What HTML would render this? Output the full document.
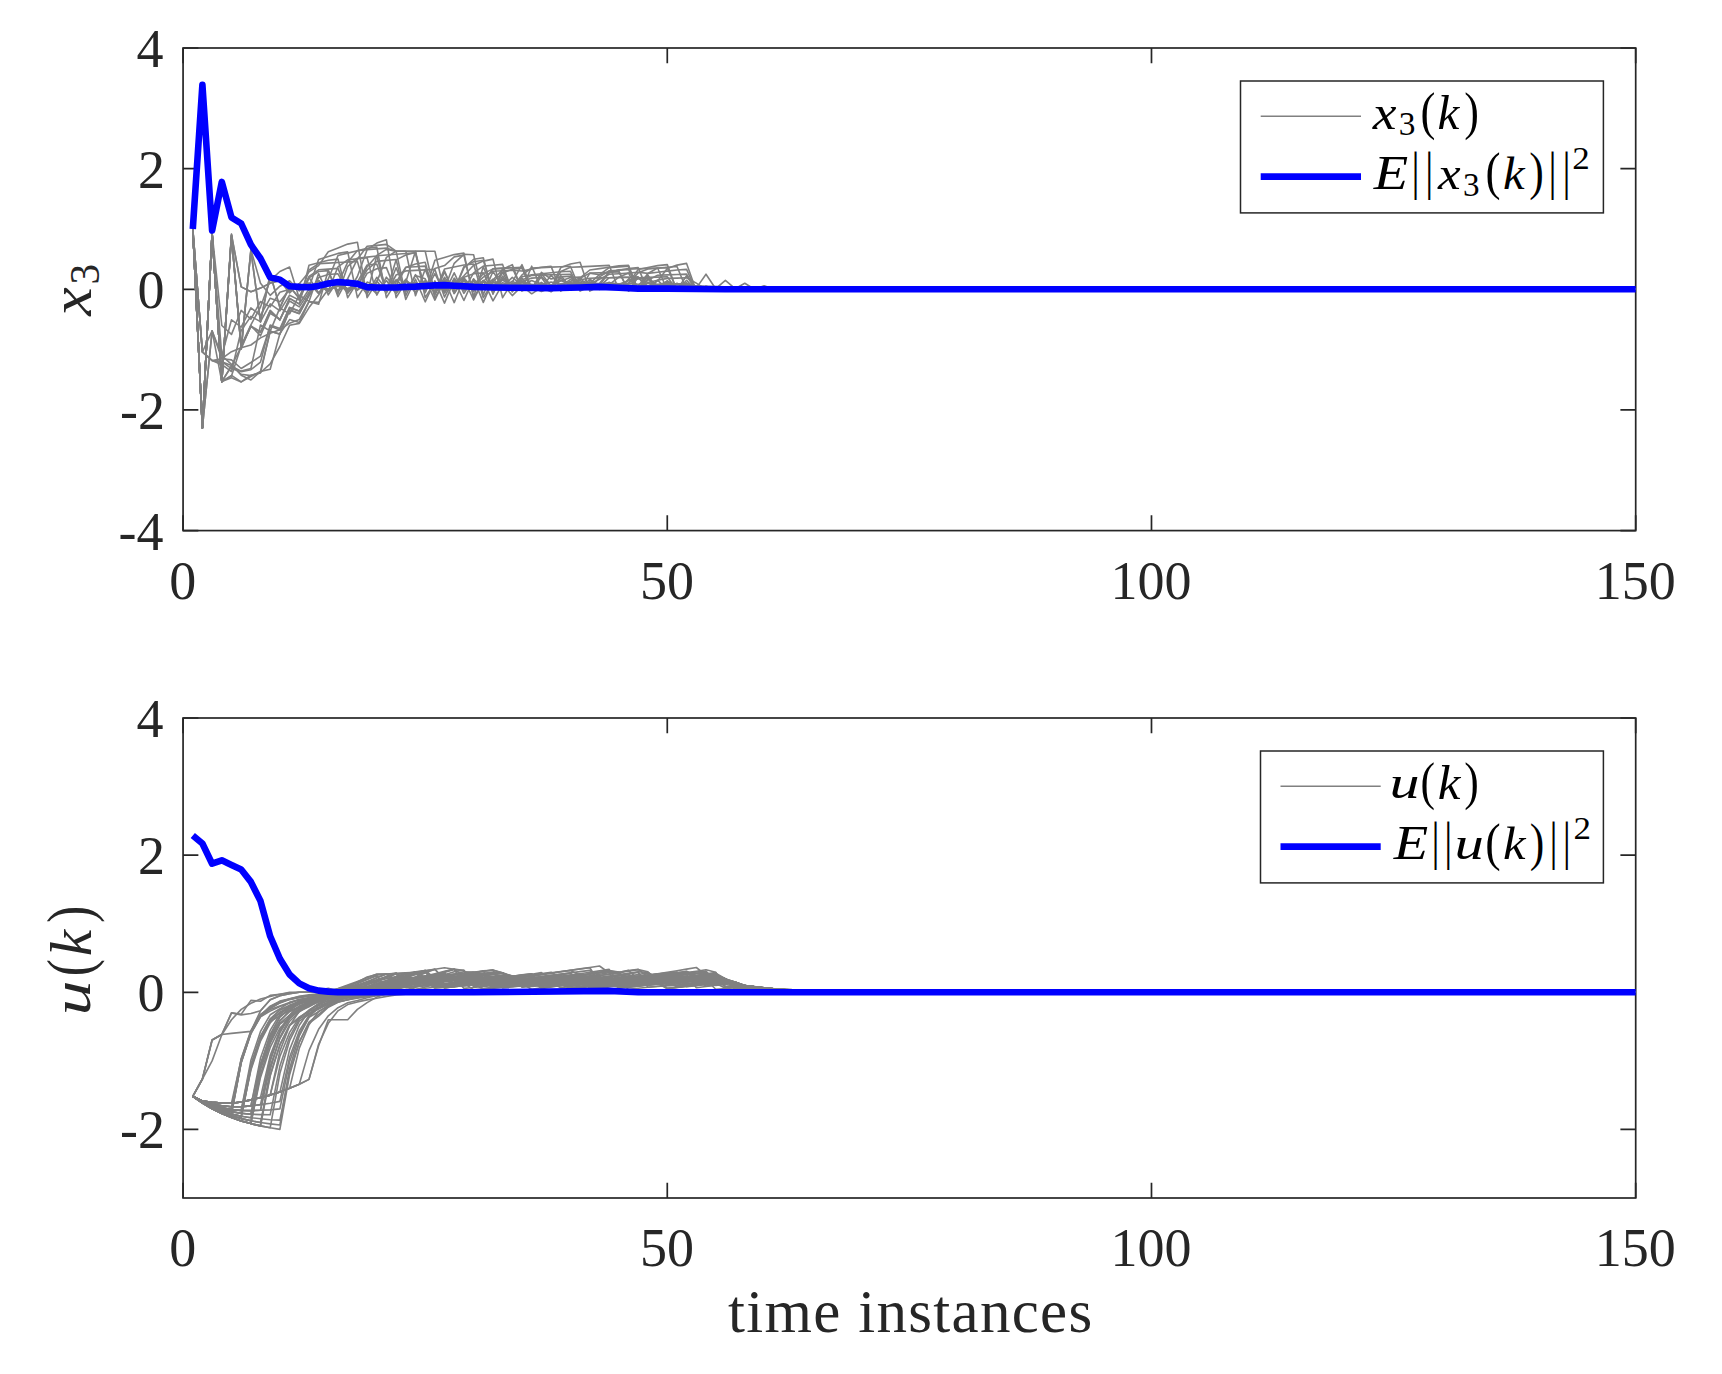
<!DOCTYPE html>
<html lang="en"><head><meta charset="utf-8"><title>x3(k) and u(k) over time instances</title>
<style>html,body{margin:0;padding:0;background:#fff}svg{display:block}</style></head>
<body>
<svg width="1722" height="1374" viewBox="0 0 1722 1374" font-family="'Liberation Serif', serif">
<rect width="1722" height="1374" fill="#fff"/>
<rect x="183.07" y="48.00" width="1452.63" height="482.60" fill="none" stroke="#262626" stroke-width="1.7"/>
<path d="M183.07 530.60v-15.3M183.07 48.00v15.3" stroke="#262626" stroke-width="1.7" fill="none"/>
<text x="182.67" y="598.50" font-size="54" text-anchor="middle" fill="#262626">0</text>
<path d="M667.28 530.60v-15.3M667.28 48.00v15.3" stroke="#262626" stroke-width="1.7" fill="none"/>
<text x="666.88" y="598.50" font-size="54" text-anchor="middle" fill="#262626">50</text>
<path d="M1151.49 530.60v-15.3M1151.49 48.00v15.3" stroke="#262626" stroke-width="1.7" fill="none"/>
<text x="1151.09" y="598.50" font-size="54" text-anchor="middle" fill="#262626">100</text>
<path d="M1635.70 530.60v-15.3M1635.70 48.00v15.3" stroke="#262626" stroke-width="1.7" fill="none"/>
<text x="1635.30" y="598.50" font-size="54" text-anchor="middle" fill="#262626">150</text>
<path d="M183.07 48.00h15.3M1635.70 48.00h-15.3" stroke="#262626" stroke-width="1.7" fill="none"/>
<text x="163.5" y="66.90" font-size="54" text-anchor="end" fill="#262626">4</text>
<path d="M183.07 168.65h15.3M1635.70 168.65h-15.3" stroke="#262626" stroke-width="1.7" fill="none"/>
<text x="165.0" y="187.55" font-size="54" text-anchor="end" fill="#262626">2</text>
<path d="M183.07 289.30h15.3M1635.70 289.30h-15.3" stroke="#262626" stroke-width="1.7" fill="none"/>
<text x="164.5" y="308.20" font-size="54" text-anchor="end" fill="#262626">0</text>
<path d="M183.07 409.95h15.3M1635.70 409.95h-15.3" stroke="#262626" stroke-width="1.7" fill="none"/>
<text x="165.0" y="428.85" font-size="54" text-anchor="end" fill="#262626">-2</text>
<path d="M183.07 530.60h15.3M1635.70 530.60h-15.3" stroke="#262626" stroke-width="1.7" fill="none"/>
<text x="163.5" y="549.50" font-size="54" text-anchor="end" fill="#262626">-4</text>
<g id="gray-top">
<path d="M192.8 229.0 L202.4 428.0 L212.1 233.2 L221.8 381.6 L231.5 235.6 L241.2 348.4 L250.9 250.3 L260.5 321.6 L270.2 274.2 L279.9 307.3 L289.6 286.4 L299.3 298.4 L309.0 276.4 L318.6 269.8 L328.3 269.1 L338.0 268.4 L347.7 292.9 L357.4 276.5 L367.1 249.7 L376.8 243.1 L386.4 239.8 L396.1 297.7 L405.8 282.1 L415.5 251.2 L425.2 251.2 L434.9 293.5 L444.5 270.8 L454.2 293.2 L463.9 277.8 L473.6 289.4 L483.3 280.3 L493.0 286.6 L502.6 282.7 L512.3 286.0 L522.0 284.0 L531.7 285.7 L541.4 284.7 L551.1 285.6 L560.8 285.0 L570.4 285.5 L580.1 285.0 L589.8 285.5 L599.5 285.1 L609.2 285.5 L618.9 285.1 L628.5 280.6 L638.2 277.7 L647.9 277.4 L657.6 277.1 L667.3 276.8 L677.0 290.2 L686.6 280.3 L696.3 290.5 L706.0 288.1 L715.7 290.5 L725.4 288.4 L735.1 290.0 L744.8 288.8 L754.4 289.6 L764.1 289.1 L773.8 289.5 L783.5 289.2 L793.2 289.4 L802.9 289.2 L812.5 289.3 L822.2 289.3 L831.9 289.3 L841.6 289.3 L861.0 289.3 L1635.7 289.3" fill="none" stroke="#808080" stroke-width="1.6" stroke-linejoin="round"/>
<path d="M192.8 229.0 L202.4 428.0 L212.1 233.2 L221.8 381.6 L231.5 235.2 L241.2 286.9 L250.9 291.8 L260.5 288.1 L270.2 283.1 L279.9 280.4 L289.6 291.3 L299.3 283.8 L309.0 271.9 L318.6 265.6 L328.3 251.7 L338.0 247.9 L347.7 244.1 L357.4 242.2 L367.1 297.7 L376.8 282.1 L386.4 257.4 L396.1 251.2 L405.8 251.2 L415.5 251.2 L425.2 251.2 L434.9 251.2 L444.5 292.7 L454.2 272.8 L463.9 293.3 L473.6 279.2 L483.3 288.3 L493.0 281.5 L502.6 287.3 L512.3 283.7 L522.0 286.7 L531.7 284.9 L541.4 286.6 L551.1 285.5 L560.8 286.5 L570.4 285.4 L580.1 286.4 L589.8 284.9 L599.5 286.5 L609.2 285.1 L618.9 286.5 L628.5 285.0 L638.2 286.6 L647.9 285.6 L657.6 286.4 L667.3 285.2 L677.0 286.5 L686.6 286.2 L696.3 289.3 L706.0 289.3 L715.7 289.3 L725.4 289.3 L735.1 289.3 L744.8 289.3 L754.4 289.3 L764.1 289.3 L773.8 289.3 L783.5 289.3 L793.2 289.3 L802.9 289.3 L812.5 289.3 L822.2 289.3 L831.9 289.3 L841.6 289.3 L861.0 289.3 L1635.7 289.3" fill="none" stroke="#808080" stroke-width="1.6" stroke-linejoin="round"/>
<path d="M192.8 229.0 L202.4 428.0 L212.1 233.2 L221.8 381.6 L231.5 236.4 L241.2 347.0 L250.9 326.6 L260.5 332.3 L270.2 310.4 L279.9 320.3 L289.6 298.4 L299.3 303.9 L309.0 289.3 L318.6 285.6 L328.3 291.2 L338.0 283.1 L347.7 289.2 L357.4 284.6 L367.1 291.4 L376.8 284.4 L386.4 290.7 L396.1 259.9 L405.8 255.0 L415.5 252.5 L425.2 297.7 L434.9 282.1 L444.5 289.0 L454.2 263.3 L463.9 254.3 L473.6 254.8 L483.3 294.7 L493.0 271.3 L502.6 286.9 L512.3 277.4 L522.0 285.5 L531.7 280.5 L541.4 284.7 L551.1 282.1 L560.8 284.3 L570.4 283.0 L580.1 284.1 L589.8 283.3 L599.5 274.7 L609.2 267.7 L618.9 266.9 L628.5 266.1 L638.2 290.1 L647.9 282.3 L657.6 289.4 L667.3 285.0 L677.0 288.7 L686.6 286.5 L696.3 290.0 L706.0 288.8 L715.7 289.7 L725.4 289.0 L735.1 289.5 L744.8 289.2 L754.4 289.4 L764.1 289.2 L773.8 289.4 L783.5 289.3 L793.2 289.3 L802.9 289.3 L812.5 289.3 L822.2 289.3 L831.9 289.3 L841.6 289.3 L861.0 289.3 L1635.7 289.3" fill="none" stroke="#808080" stroke-width="1.6" stroke-linejoin="round"/>
<path d="M192.8 229.0 L202.4 428.0 L212.1 233.2 L221.8 381.6 L231.5 377.8 L241.2 381.9 L250.9 375.2 L260.5 372.9 L270.2 331.3 L279.9 334.3 L289.6 310.2 L299.3 313.7 L309.0 295.3 L318.6 280.6 L328.3 291.2 L338.0 283.9 L347.7 262.2 L357.4 250.6 L367.1 249.8 L376.8 248.9 L386.4 248.1 L396.1 251.2 L405.8 295.7 L415.5 274.7 L425.2 291.6 L434.9 260.3 L444.5 257.4 L454.2 254.6 L463.9 253.1 L473.6 297.7 L483.3 282.1 L493.0 268.7 L502.6 268.1 L512.3 267.6 L522.0 289.8 L531.7 266.2 L541.4 288.6 L551.1 274.9 L560.8 286.5 L570.4 279.4 L580.1 285.5 L589.8 281.8 L599.5 284.9 L609.2 272.7 L618.9 269.7 L628.5 269.3 L638.2 268.8 L647.9 268.4 L657.6 268.0 L667.3 289.8 L677.0 283.2 L686.6 289.1 L696.3 288.1 L706.0 274.2 L715.7 288.7 L725.4 280.3 L735.1 288.7 L744.8 283.3 L754.4 289.3 L764.1 285.7 L773.8 289.3 L783.5 286.9 L793.2 289.3 L802.9 289.3 L812.5 289.3 L822.2 289.3 L831.9 289.3 L841.6 289.3 L861.0 289.3 L1635.7 289.3" fill="none" stroke="#808080" stroke-width="1.6" stroke-linejoin="round"/>
<path d="M192.8 229.0 L202.4 428.0 L212.1 233.2 L221.8 381.6 L231.5 366.3 L241.2 371.1 L250.9 368.5 L260.5 325.0 L270.2 331.1 L279.9 307.9 L289.6 313.9 L299.3 295.2 L309.0 301.4 L318.6 273.6 L328.3 294.9 L338.0 280.3 L347.7 291.3 L357.4 283.8 L367.1 289.5 L376.8 284.7 L386.4 288.5 L396.1 284.5 L405.8 288.2 L415.5 284.7 L425.2 288.3 L434.9 285.8 L444.5 289.7 L454.2 285.1 L463.9 275.7 L473.6 265.2 L483.3 261.1 L493.0 259.1 L502.6 297.7 L512.3 282.1 L522.0 264.7 L531.7 287.9 L541.4 273.7 L551.1 285.7 L560.8 278.4 L570.4 284.6 L580.1 280.8 L589.8 284.0 L599.5 279.3 L609.2 274.2 L618.9 273.7 L628.5 273.1 L638.2 290.5 L647.9 275.1 L657.6 290.6 L667.3 281.1 L677.0 289.2 L686.6 284.3 L696.3 290.5 L706.0 288.1 L715.7 290.1 L725.4 288.7 L735.1 289.7 L744.8 289.0 L754.4 289.5 L764.1 289.1 L773.8 289.4 L783.5 289.2 L793.2 289.4 L802.9 289.3 L812.5 289.3 L822.2 289.3 L831.9 289.3 L841.6 289.3 L861.0 289.3 L1635.7 289.3" fill="none" stroke="#808080" stroke-width="1.6" stroke-linejoin="round"/>
<path d="M192.8 229.0 L202.4 428.0 L212.1 330.9 L221.8 381.6 L231.5 365.8 L241.2 346.8 L250.9 325.8 L260.5 335.8 L270.2 313.3 L279.9 319.4 L289.6 301.0 L299.3 306.9 L309.0 292.3 L318.6 284.0 L328.3 289.3 L338.0 285.4 L347.7 288.4 L357.4 286.0 L367.1 270.0 L376.8 261.4 L386.4 260.4 L396.1 259.5 L405.8 299.5 L415.5 279.2 L425.2 301.8 L434.9 280.9 L444.5 303.1 L454.2 279.9 L463.9 300.5 L473.6 278.9 L483.3 302.4 L493.0 280.0 L502.6 269.5 L512.3 264.6 L522.0 291.1 L531.7 286.3 L541.4 291.5 L551.1 287.7 L560.8 284.3 L570.4 283.3 L580.1 284.1 L589.8 283.4 L599.5 284.1 L609.2 283.5 L618.9 284.1 L628.5 283.5 L638.2 284.2 L647.9 283.3 L657.6 284.2 L667.3 283.6 L677.0 284.1 L686.6 284.0 L696.3 289.3 L706.0 289.3 L715.7 289.3 L725.4 289.3 L735.1 289.3 L744.8 289.3 L754.4 289.3 L764.1 289.3 L773.8 289.3 L783.5 289.3 L793.2 289.3 L802.9 289.3 L812.5 289.3 L822.2 289.3 L831.9 289.3 L841.6 289.3 L861.0 289.3 L1635.7 289.3" fill="none" stroke="#808080" stroke-width="1.6" stroke-linejoin="round"/>
<path d="M192.8 229.0 L202.4 428.0 L212.1 330.9 L221.8 358.7 L231.5 359.9 L241.2 368.5 L250.9 362.5 L260.5 356.1 L270.2 325.9 L279.9 330.0 L289.6 307.4 L299.3 310.9 L309.0 295.4 L318.6 280.5 L328.3 291.2 L338.0 283.9 L347.7 289.4 L357.4 285.6 L367.1 288.5 L376.8 284.6 L386.4 288.5 L396.1 284.4 L405.8 288.4 L415.5 286.4 L425.2 288.3 L434.9 286.0 L444.5 289.6 L454.2 285.7 L463.9 289.0 L473.6 285.9 L483.3 277.1 L493.0 271.2 L502.6 270.8 L512.3 270.3 L522.0 271.0 L531.7 269.1 L541.4 267.3 L551.1 266.4 L560.8 291.1 L570.4 286.3 L580.1 279.7 L589.8 278.2 L599.5 277.9 L609.2 277.7 L618.9 277.5 L628.5 277.2 L638.2 290.0 L647.9 278.8 L657.6 285.6 L667.3 281.4 L677.0 284.9 L686.6 282.8 L696.3 290.0 L706.0 288.8 L715.7 289.7 L725.4 289.0 L735.1 289.5 L744.8 289.2 L754.4 289.4 L764.1 289.2 L773.8 289.4 L783.5 289.3 L793.2 289.3 L802.9 289.3 L812.5 289.3 L822.2 289.3 L831.9 289.3 L841.6 289.3 L861.0 289.3 L1635.7 289.3" fill="none" stroke="#808080" stroke-width="1.6" stroke-linejoin="round"/>
<path d="M192.8 229.0 L202.4 352.0 L212.1 360.5 L221.8 358.7 L231.5 351.7 L241.2 347.7 L250.9 345.0 L260.5 337.9 L270.2 333.3 L279.9 329.8 L289.6 323.2 L299.3 319.5 L309.0 301.7 L318.6 302.4 L328.3 289.3 L338.0 286.1 L347.7 289.7 L357.4 285.9 L367.1 266.8 L376.8 255.7 L386.4 255.0 L396.1 254.2 L405.8 253.5 L415.5 252.8 L425.2 291.8 L434.9 273.7 L444.5 293.0 L454.2 279.8 L463.9 289.8 L473.6 272.8 L483.3 266.1 L493.0 265.2 L502.6 264.4 L512.3 291.9 L522.0 278.1 L531.7 289.2 L541.4 282.4 L551.1 288.1 L560.8 267.6 L570.4 264.0 L580.1 262.2 L589.8 291.1 L599.5 286.3 L609.2 277.7 L618.9 277.4 L628.5 277.2 L638.2 276.9 L647.9 290.2 L657.6 280.1 L667.3 289.6 L677.0 283.8 L686.6 288.7 L696.3 288.1 L706.0 290.3 L715.7 288.6 L725.4 289.8 L735.1 288.9 L744.8 289.6 L754.4 289.1 L764.1 289.4 L773.8 289.2 L783.5 289.4 L793.2 289.2 L802.9 289.3 L812.5 289.3 L822.2 289.3 L831.9 289.3 L841.6 289.3 L861.0 289.3 L1635.7 289.3" fill="none" stroke="#808080" stroke-width="1.6" stroke-linejoin="round"/>
<path d="M192.8 229.0 L202.4 352.0 L212.1 360.5 L221.8 361.7 L231.5 368.7 L241.2 371.6 L250.9 369.7 L260.5 362.1 L270.2 325.1 L279.9 328.5 L289.6 307.4 L299.3 311.2 L309.0 295.2 L318.6 277.5 L328.3 274.5 L338.0 273.8 L347.7 291.3 L357.4 281.2 L367.1 294.3 L376.8 255.4 L386.4 249.4 L396.1 251.2 L405.8 251.2 L415.5 251.2 L425.2 292.8 L434.9 268.5 L444.5 265.6 L454.2 256.9 L463.9 255.1 L473.6 297.0 L483.3 266.7 L493.0 290.9 L502.6 276.1 L512.3 288.7 L522.0 281.0 L531.7 287.5 L541.4 283.5 L551.1 286.9 L560.8 284.8 L570.4 281.5 L580.1 277.9 L589.8 270.0 L599.5 268.6 L609.2 267.2 L618.9 265.9 L628.5 265.2 L638.2 291.1 L647.9 286.3 L657.6 288.6 L667.3 286.3 L677.0 288.5 L686.6 287.1 L696.3 289.7 L706.0 289.0 L715.7 289.5 L725.4 289.2 L735.1 289.4 L744.8 289.2 L754.4 289.4 L764.1 289.3 L773.8 289.3 L783.5 289.3 L793.2 289.3 L802.9 289.3 L812.5 289.3 L822.2 289.3 L831.9 289.3 L841.6 289.3 L861.0 289.3 L1635.7 289.3" fill="none" stroke="#808080" stroke-width="1.6" stroke-linejoin="round"/>
<path d="M192.8 229.0 L202.4 352.0 L212.1 360.5 L221.8 364.7 L231.5 371.5 L241.2 330.5 L250.9 316.4 L260.5 321.6 L270.2 303.9 L279.9 310.9 L289.6 295.2 L299.3 300.1 L309.0 277.9 L318.6 271.5 L328.3 270.6 L338.0 293.8 L347.7 266.3 L357.4 258.2 L367.1 257.1 L376.8 256.0 L386.4 292.0 L396.1 267.8 L405.8 291.9 L415.5 275.4 L425.2 278.8 L434.9 300.1 L444.5 280.0 L454.2 302.6 L463.9 278.7 L473.6 300.0 L483.3 280.6 L493.0 300.8 L502.6 284.1 L512.3 295.6 L522.0 285.9 L531.7 293.8 L541.4 287.4 L551.1 291.8 L560.8 283.9 L570.4 282.8 L580.1 283.9 L589.8 283.1 L599.5 283.8 L609.2 282.8 L618.9 283.8 L628.5 283.1 L638.2 269.5 L647.9 267.5 L657.6 265.6 L667.3 264.6 L677.0 291.1 L686.6 286.3 L696.3 289.3 L706.0 289.3 L715.7 289.3 L725.4 289.3 L735.1 289.3 L744.8 289.3 L754.4 289.3 L764.1 289.3 L773.8 289.3 L783.5 289.3 L793.2 289.3 L802.9 289.3 L812.5 289.3 L822.2 289.3 L831.9 289.3 L841.6 289.3 L861.0 289.3 L1635.7 289.3" fill="none" stroke="#808080" stroke-width="1.6" stroke-linejoin="round"/>
<path d="M192.8 229.0 L202.4 428.0 L212.1 233.2 L221.8 355.7 L231.5 364.4 L241.2 375.3 L250.9 380.0 L260.5 371.4 L270.2 369.3 L279.9 333.5 L289.6 319.6 L299.3 322.6 L309.0 301.5 L318.6 304.2 L328.3 270.3 L338.0 296.6 L347.7 278.6 L357.4 259.1 L367.1 246.3 L376.8 245.4 L386.4 244.4 L396.1 251.2 L405.8 251.2 L415.5 295.8 L425.2 269.3 L434.9 294.7 L444.5 277.3 L454.2 290.5 L463.9 266.6 L473.6 261.8 L483.3 260.3 L493.0 291.9 L502.6 272.1 L512.3 291.5 L522.0 281.8 L531.7 278.1 L541.4 277.5 L551.1 290.7 L560.8 275.7 L570.4 286.6 L580.1 278.3 L589.8 273.1 L599.5 272.7 L609.2 272.3 L618.9 271.8 L628.5 290.6 L638.2 277.3 L647.9 286.5 L657.6 280.9 L667.3 268.5 L677.0 265.1 L686.6 263.4 L696.3 291.1 L706.0 286.3 L715.7 288.9 L725.4 289.6 L735.1 289.1 L744.8 289.4 L754.4 289.2 L764.1 289.4 L773.8 289.3 L783.5 289.3 L793.2 289.3 L802.9 289.3 L812.5 289.3 L822.2 289.3 L831.9 289.3 L841.6 289.3 L861.0 289.3 L1635.7 289.3" fill="none" stroke="#808080" stroke-width="1.6" stroke-linejoin="round"/>
<path d="M192.8 229.0 L202.4 428.0 L212.1 233.2 L221.8 381.6 L231.5 234.0 L241.2 348.8 L250.9 249.6 L260.5 283.2 L270.2 295.3 L279.9 286.2 L289.6 280.8 L299.3 290.9 L309.0 282.8 L318.6 293.6 L328.3 279.0 L338.0 255.5 L347.7 253.1 L357.4 250.7 L367.1 248.3 L376.8 247.1 L386.4 297.7 L396.1 282.1 L405.8 267.3 L415.5 266.7 L425.2 266.1 L434.9 294.2 L444.5 272.0 L454.2 293.6 L463.9 278.8 L473.6 291.5 L483.3 281.2 L493.0 288.3 L502.6 280.0 L512.3 286.7 L522.0 282.6 L531.7 286.6 L541.4 284.7 L551.1 286.4 L560.8 280.9 L570.4 277.6 L580.1 277.0 L589.8 289.9 L599.5 276.9 L609.2 270.8 L618.9 270.2 L628.5 269.5 L638.2 289.8 L647.9 275.9 L657.6 288.6 L667.3 280.8 L677.0 287.5 L686.6 283.4 L696.3 285.9 L706.0 286.2 L715.7 286.5 L725.4 286.8 L735.1 287.1 L744.8 287.5 L754.4 289.8 L764.1 288.3 L773.8 290.0 L783.5 288.8 L793.2 289.7 L802.9 289.0 L812.5 289.5 L822.2 289.2 L831.9 289.4 L841.6 289.2 L861.0 289.3 L1635.7 289.3" fill="none" stroke="#808080" stroke-width="1.6" stroke-linejoin="round"/>
<path d="M192.8 229.0 L202.4 352.0 L212.1 330.9 L221.8 355.7 L231.5 319.8 L241.2 327.1 L250.9 307.9 L260.5 315.4 L270.2 298.2 L279.9 301.7 L289.6 289.3 L299.3 287.0 L309.0 288.0 L318.6 259.4 L328.3 256.4 L338.0 253.4 L347.7 251.9 L357.4 297.7 L367.1 282.1 L376.8 286.1 L386.4 288.5 L396.1 286.3 L405.8 288.1 L415.5 286.4 L425.2 288.5 L434.9 287.0 L444.5 288.6 L454.2 286.9 L463.9 277.2 L473.6 273.8 L483.3 272.9 L493.0 293.1 L502.6 278.0 L512.3 287.0 L522.0 274.9 L531.7 268.0 L541.4 267.6 L551.1 267.1 L560.8 266.7 L570.4 266.2 L580.1 289.7 L589.8 282.7 L599.5 289.5 L609.2 285.3 L618.9 288.9 L628.5 286.7 L638.2 288.5 L647.9 280.1 L657.6 275.3 L667.3 274.9 L677.0 274.5 L686.6 274.1 L696.3 289.8 L706.0 288.1 L715.7 290.5 L725.4 288.1 L735.1 290.5 L744.8 288.1 L754.4 290.5 L764.1 288.1 L773.8 290.2 L783.5 288.7 L793.2 289.7 L802.9 289.0 L812.5 289.5 L822.2 289.1 L831.9 289.4 L841.6 289.2 L861.0 289.3 L1635.7 289.3" fill="none" stroke="#808080" stroke-width="1.6" stroke-linejoin="round"/>
<path d="M192.8 229.0 L202.4 428.0 L212.1 233.2 L221.8 325.5 L231.5 334.4 L241.2 310.4 L250.9 319.1 L260.5 301.5 L270.2 306.9 L279.9 292.3 L289.6 289.3 L299.3 285.3 L309.0 289.0 L318.6 286.2 L328.3 289.6 L338.0 286.2 L347.7 289.4 L357.4 284.5 L367.1 288.3 L376.8 286.4 L386.4 289.6 L396.1 285.7 L405.8 267.6 L415.5 264.0 L425.2 262.2 L434.9 297.7 L444.5 282.1 L454.2 285.1 L463.9 288.2 L473.6 285.5 L483.3 288.2 L493.0 286.0 L502.6 288.1 L512.3 286.7 L522.0 287.8 L531.7 287.0 L541.4 287.7 L551.1 287.0 L560.8 287.7 L570.4 287.0 L580.1 287.6 L589.8 287.1 L599.5 287.7 L609.2 286.9 L618.9 287.6 L628.5 287.1 L638.2 287.6 L647.9 286.8 L657.6 287.7 L667.3 287.3 L677.0 287.6 L686.6 287.5 L696.3 289.3 L706.0 289.3 L715.7 289.3 L725.4 289.3 L735.1 289.3 L744.8 289.3 L754.4 289.3 L764.1 289.3 L773.8 289.3 L783.5 289.3 L793.2 289.3 L802.9 289.3 L812.5 289.3 L822.2 289.3 L831.9 289.3 L841.6 289.3 L861.0 289.3 L1635.7 289.3" fill="none" stroke="#808080" stroke-width="1.6" stroke-linejoin="round"/>
<path d="M192.8 229.0 L202.4 428.0 L212.1 233.2 L221.8 381.6 L231.5 376.0 L241.2 345.7 L250.9 324.8 L260.5 307.0 L270.2 280.3 L279.9 271.5 L289.6 267.0 L299.3 298.4 L309.0 270.0 L318.6 263.6 L328.3 263.1 L338.0 262.5 L347.7 262.0 L357.4 261.4 L367.1 293.9 L376.8 277.3 L386.4 288.9 L396.1 280.9 L405.8 286.9 L415.5 282.8 L425.2 285.9 L434.9 283.8 L444.5 285.6 L454.2 283.8 L463.9 285.8 L473.6 283.9 L483.3 285.1 L493.0 284.0 L502.6 285.0 L512.3 284.3 L522.0 280.1 L531.7 275.4 L541.4 275.1 L551.1 274.8 L560.8 274.5 L570.4 274.2 L580.1 289.6 L589.8 273.2 L599.5 274.8 L609.2 272.4 L618.9 271.2 L628.5 291.1 L638.2 286.3 L647.9 273.5 L657.6 268.0 L667.3 267.3 L677.0 266.5 L686.6 289.7 L696.3 288.1 L706.0 290.5 L715.7 288.1 L725.4 290.5 L735.1 288.1 L744.8 290.2 L754.4 288.7 L764.1 289.7 L773.8 289.0 L783.5 289.5 L793.2 289.1 L802.9 289.4 L812.5 289.2 L822.2 289.4 L831.9 289.3 L841.6 289.3 L861.0 289.3 L1635.7 289.3" fill="none" stroke="#808080" stroke-width="1.6" stroke-linejoin="round"/>
<path d="M192.8 229.0 L202.4 352.0 L212.1 360.5 L221.8 361.7 L231.5 365.4 L241.2 374.3 L250.9 375.6 L260.5 372.5 L270.2 363.8 L279.9 346.5 L289.6 325.3 L299.3 323.4 L309.0 307.6 L318.6 295.3 L328.3 280.6 L338.0 291.2 L347.7 283.9 L357.4 290.4 L367.1 273.4 L376.8 268.7 L386.4 267.6 L396.1 292.0 L405.8 279.2 L415.5 291.8 L425.2 282.8 L434.9 291.1 L444.5 269.0 L454.2 267.0 L463.9 265.0 L473.6 264.0 L483.3 297.7 L493.0 282.1 L502.6 285.4 L512.3 287.8 L522.0 286.6 L531.7 287.6 L541.4 286.6 L551.1 287.8 L560.8 271.6 L570.4 267.3 L580.1 266.9 L589.8 266.4 L599.5 265.9 L609.2 265.4 L618.9 290.0 L628.5 278.9 L638.2 288.1 L647.9 282.5 L657.6 280.3 L667.3 278.4 L677.0 278.1 L686.6 277.8 L696.3 283.1 L706.0 289.5 L715.7 288.1 L725.4 290.5 L735.1 288.1 L744.8 290.5 L754.4 288.1 L764.1 290.5 L773.8 288.5 L783.5 289.9 L793.2 288.9 L802.9 289.6 L812.5 289.1 L822.2 289.5 L831.9 289.2 L841.6 289.4 L861.0 289.3 L1635.7 289.3" fill="none" stroke="#808080" stroke-width="1.6" stroke-linejoin="round"/>
<path d="M192.8 229.0 L202.4 428.0 L212.1 233.2 L221.8 381.6 L231.5 235.7 L241.2 349.1 L250.9 250.7 L260.5 322.1 L270.2 273.8 L279.9 307.8 L289.6 286.3 L299.3 298.2 L309.0 277.3 L318.6 292.9 L328.3 280.7 L338.0 290.3 L347.7 279.1 L357.4 289.8 L367.1 284.7 L376.8 293.9 L386.4 280.5 L396.1 293.8 L405.8 280.8 L415.5 292.8 L425.2 280.4 L434.9 292.7 L444.5 279.9 L454.2 290.4 L463.9 268.0 L473.6 259.3 L483.3 257.7 L493.0 294.3 L502.6 268.9 L512.3 289.3 L522.0 276.8 L531.7 274.8 L541.4 273.8 L551.1 272.8 L560.8 271.7 L570.4 271.2 L580.1 291.1 L589.8 286.3 L599.5 284.1 L609.2 285.9 L618.9 284.5 L628.5 280.5 L638.2 278.9 L647.9 278.3 L657.6 290.6 L667.3 281.2 L677.0 289.4 L686.6 284.4 L696.3 290.5 L706.0 288.1 L715.7 290.1 L725.4 288.7 L735.1 289.7 L744.8 289.0 L754.4 289.5 L764.1 289.1 L773.8 289.4 L783.5 289.2 L793.2 289.4 L802.9 289.3 L812.5 289.3 L822.2 289.3 L831.9 289.3 L841.6 289.3 L861.0 289.3 L1635.7 289.3" fill="none" stroke="#808080" stroke-width="1.6" stroke-linejoin="round"/>
<path d="M192.8 229.0 L202.4 428.0 L212.1 233.2 L221.8 381.6 L231.5 234.4 L241.2 286.9 L250.9 291.7 L260.5 288.1 L270.2 283.2 L279.9 280.5 L289.6 293.0 L299.3 283.7 L309.0 290.1 L318.6 283.7 L328.3 291.8 L338.0 281.8 L347.7 293.1 L357.4 282.9 L367.1 292.6 L376.8 280.9 L386.4 293.0 L396.1 275.0 L405.8 270.9 L415.5 270.4 L425.2 269.9 L434.9 269.4 L444.5 297.1 L454.2 278.1 L463.9 290.5 L473.6 281.4 L483.3 287.6 L493.0 279.0 L502.6 287.4 L512.3 281.2 L522.0 286.7 L531.7 284.4 L541.4 286.8 L551.1 284.8 L560.8 286.7 L570.4 284.4 L580.1 286.9 L589.8 285.5 L599.5 286.8 L609.2 284.7 L618.9 277.2 L628.5 273.1 L638.2 272.2 L647.9 273.4 L657.6 272.2 L667.3 271.1 L677.0 270.0 L686.6 269.4 L696.3 291.1 L706.0 286.3 L715.7 288.8 L725.4 289.6 L735.1 289.1 L744.8 289.5 L754.4 289.2 L764.1 289.4 L773.8 289.2 L783.5 289.3 L793.2 289.3 L802.9 289.3 L812.5 289.3 L822.2 289.3 L831.9 289.3 L841.6 289.3 L861.0 289.3 L1635.7 289.3" fill="none" stroke="#808080" stroke-width="1.6" stroke-linejoin="round"/>
<path d="M192.8 229.0 L202.4 428.0 L212.1 233.2 L221.8 381.6 L231.5 235.7 L241.2 348.8 L250.9 325.8 L260.5 332.0 L270.2 310.9 L279.9 319.6 L289.6 298.4 L299.3 304.1 L309.0 265.2 L318.6 262.8 L328.3 260.3 L338.0 259.1 L347.7 297.7 L357.4 282.1 L367.1 265.0 L376.8 264.1 L386.4 290.8 L396.1 279.7 L405.8 290.0 L415.5 282.3 L425.2 289.4 L434.9 283.5 L444.5 287.7 L454.2 282.8 L463.9 289.8 L473.6 283.8 L483.3 287.2 L493.0 281.5 L502.6 273.0 L512.3 269.2 L522.0 268.1 L531.7 289.6 L541.4 272.3 L551.1 279.0 L560.8 276.9 L570.4 276.2 L580.1 290.2 L589.8 278.9 L599.5 287.7 L609.2 282.3 L618.9 286.9 L628.5 284.1 L638.2 272.8 L647.9 269.0 L657.6 268.3 L667.3 267.6 L677.0 289.7 L686.6 275.8 L696.3 290.5 L706.0 288.1 L715.7 290.5 L725.4 288.1 L735.1 290.5 L744.8 288.2 L754.4 290.1 L764.1 288.7 L773.8 289.7 L783.5 289.0 L793.2 289.5 L802.9 289.1 L812.5 289.4 L822.2 289.2 L831.9 289.4 L841.6 289.3 L861.0 289.3 L1635.7 289.3" fill="none" stroke="#808080" stroke-width="1.6" stroke-linejoin="round"/>
<path d="M192.8 229.0 L202.4 428.0 L212.1 233.2 L221.8 381.6 L231.5 375.3 L241.2 381.9 L250.9 376.5 L260.5 371.4 L270.2 331.3 L279.9 333.9 L289.6 309.8 L299.3 313.5 L309.0 295.3 L318.6 280.6 L328.3 291.1 L338.0 266.8 L347.7 259.9 L357.4 258.8 L367.1 257.7 L376.8 295.1 L386.4 277.2 L396.1 288.3 L405.8 280.7 L415.5 286.4 L425.2 281.4 L434.9 286.1 L444.5 282.4 L454.2 285.8 L463.9 281.5 L473.6 285.7 L483.3 273.6 L493.0 268.9 L502.6 268.4 L512.3 267.8 L522.0 267.3 L531.7 289.7 L541.4 276.5 L551.1 286.3 L560.8 280.3 L570.4 285.3 L580.1 282.3 L589.8 284.9 L599.5 283.3 L609.2 271.9 L618.9 270.2 L628.5 268.5 L638.2 267.6 L647.9 291.1 L657.6 286.3 L667.3 284.5 L677.0 283.7 L686.6 284.4 L696.3 289.3 L706.0 289.3 L715.7 289.3 L725.4 289.3 L735.1 289.3 L744.8 289.3 L754.4 289.3 L764.1 289.3 L773.8 289.3 L783.5 289.3 L793.2 289.3 L802.9 289.3 L812.5 289.3 L822.2 289.3 L831.9 289.3 L841.6 289.3 L861.0 289.3 L1635.7 289.3" fill="none" stroke="#808080" stroke-width="1.6" stroke-linejoin="round"/>
</g>
<path d="M192.8 229.0 L202.4 84.8 L212.1 230.5 L221.8 181.9 L231.5 217.5 L241.2 223.5 L250.9 244.7 L260.5 258.5 L270.2 277.4 L279.9 279.6 L289.6 286.3 L299.3 286.9 L309.0 287.2 L318.6 285.9 L328.3 283.5 L338.0 282.1 L347.7 282.7 L357.4 283.9 L367.1 287.1 L376.8 287.5 L386.4 287.5 L396.1 287.5 L405.8 286.9 L415.5 286.6 L425.2 286.0 L434.9 285.4 L444.5 285.1 L454.2 285.7 L463.9 286.3 L473.6 286.9 L483.3 287.2 L493.0 287.5 L512.3 287.8 L551.1 288.1 L580.1 287.5 L599.5 286.9 L618.9 287.8 L638.2 288.6 L667.3 288.6 L696.3 289.0 L725.4 289.3 L1635.7 289.3" fill="none" stroke="#0000ff" stroke-width="6.6" stroke-linejoin="round"/>
<rect x="183.07" y="718.00" width="1452.63" height="480.00" fill="none" stroke="#262626" stroke-width="1.7"/>
<path d="M183.07 1198.00v-15.3M183.07 718.00v15.3" stroke="#262626" stroke-width="1.7" fill="none"/>
<text x="182.67" y="1265.90" font-size="54" text-anchor="middle" fill="#262626">0</text>
<path d="M667.28 1198.00v-15.3M667.28 718.00v15.3" stroke="#262626" stroke-width="1.7" fill="none"/>
<text x="666.88" y="1265.90" font-size="54" text-anchor="middle" fill="#262626">50</text>
<path d="M1151.49 1198.00v-15.3M1151.49 718.00v15.3" stroke="#262626" stroke-width="1.7" fill="none"/>
<text x="1151.09" y="1265.90" font-size="54" text-anchor="middle" fill="#262626">100</text>
<path d="M1635.70 1198.00v-15.3M1635.70 718.00v15.3" stroke="#262626" stroke-width="1.7" fill="none"/>
<text x="1635.30" y="1265.90" font-size="54" text-anchor="middle" fill="#262626">150</text>
<path d="M183.07 718.00h15.3M1635.70 718.00h-15.3" stroke="#262626" stroke-width="1.7" fill="none"/>
<text x="163.5" y="736.90" font-size="54" text-anchor="end" fill="#262626">4</text>
<path d="M183.07 855.14h15.3M1635.70 855.14h-15.3" stroke="#262626" stroke-width="1.7" fill="none"/>
<text x="165.0" y="874.04" font-size="54" text-anchor="end" fill="#262626">2</text>
<path d="M183.07 992.29h15.3M1635.70 992.29h-15.3" stroke="#262626" stroke-width="1.7" fill="none"/>
<text x="164.5" y="1011.19" font-size="54" text-anchor="end" fill="#262626">0</text>
<path d="M183.07 1129.43h15.3M1635.70 1129.43h-15.3" stroke="#262626" stroke-width="1.7" fill="none"/>
<text x="165.0" y="1148.33" font-size="54" text-anchor="end" fill="#262626">-2</text>
<g id="gray-bot">
<path d="M192.8 1096.3 L202.4 1079.0 L212.1 1040.0 L221.8 1034.5 L231.5 1012.9 L241.2 1014.2 L250.9 1000.4 L260.5 1001.2 L270.2 995.4 L279.9 994.3 L289.6 993.0 L299.3 992.3 L309.0 992.3 L318.6 991.4 L328.3 990.4 L338.0 989.5 L347.7 988.6 L357.4 987.7 L367.1 986.8 L376.8 985.8 L386.4 984.9 L396.1 984.0 L405.8 983.1 L415.5 982.2 L425.2 981.3 L434.9 988.3 L444.5 987.4 L454.2 986.6 L463.9 985.7 L473.6 984.8 L483.3 988.6 L493.0 987.3 L502.6 986.1 L512.3 984.9 L522.0 983.7 L531.7 989.3 L541.4 987.7 L551.1 986.2 L560.8 984.6 L570.4 988.4 L580.1 986.9 L589.8 985.5 L599.5 984.0 L609.2 982.5 L618.9 981.0 L628.5 979.5 L638.2 985.0 L647.9 983.6 L657.6 982.3 L667.3 980.9 L677.0 979.6 L686.6 978.2 L696.3 976.8 L706.0 975.5 L715.7 974.1 L725.4 979.2 L735.1 982.1 L744.8 988.1 L754.4 986.8 L764.1 987.9 L773.8 990.1 L783.5 989.6 L793.2 989.9 L802.9 990.2 L812.5 990.2 L822.2 990.5 L831.9 990.8 L841.6 991.0 L851.3 991.3 L861.0 991.6 L899.7 992.3 L1635.7 992.3" fill="none" stroke="#808080" stroke-width="1.6" stroke-linejoin="round"/>
<path d="M192.8 1096.3 L202.4 1079.0 L212.1 1040.0 L221.8 1034.5 L231.5 1033.4 L241.2 1032.4 L250.9 1031.4 L260.5 1010.8 L270.2 999.8 L279.9 995.7 L289.6 993.7 L299.3 992.3 L309.0 992.3 L318.6 990.3 L328.3 990.4 L338.0 989.2 L347.7 988.0 L357.4 986.8 L367.1 989.5 L376.8 988.6 L386.4 987.8 L396.1 986.9 L405.8 986.0 L415.5 989.4 L425.2 988.3 L434.9 987.2 L444.5 986.1 L454.2 986.9 L463.9 985.3 L473.6 983.7 L483.3 982.2 L493.0 980.6 L502.6 979.0 L512.3 977.4 L522.0 975.8 L531.7 974.2 L541.4 972.6 L551.1 978.3 L560.8 976.7 L570.4 975.2 L580.1 973.7 L589.8 987.8 L599.5 986.5 L609.2 985.2 L618.9 983.9 L628.5 985.1 L638.2 983.8 L647.9 982.6 L657.6 981.3 L667.3 980.0 L677.0 978.7 L686.6 977.4 L696.3 976.1 L706.0 981.3 L715.7 980.6 L725.4 979.9 L735.1 982.5 L744.8 987.9 L754.4 986.8 L764.1 990.0 L773.8 988.8 L783.5 989.5 L793.2 990.5 L802.9 990.0 L812.5 990.8 L822.2 990.5 L831.9 990.7 L841.6 990.9 L851.3 991.3 L861.0 991.6 L899.7 992.3 L1635.7 992.3" fill="none" stroke="#808080" stroke-width="1.6" stroke-linejoin="round"/>
<path d="M192.8 1096.3 L202.4 1079.0 L212.1 1040.0 L221.8 1034.5 L231.5 1012.9 L241.2 1014.9 L250.9 1013.5 L260.5 1010.8 L270.2 999.8 L279.9 995.7 L289.6 993.7 L299.3 992.3 L309.0 992.3 L318.6 991.3 L328.3 990.4 L338.0 989.5 L347.7 988.5 L357.4 987.6 L367.1 986.6 L376.8 985.7 L386.4 984.7 L396.1 983.8 L405.8 982.8 L415.5 981.9 L425.2 980.9 L434.9 987.1 L444.5 985.7 L454.2 984.3 L463.9 982.9 L473.6 981.4 L483.3 980.0 L493.0 978.6 L502.6 984.4 L512.3 983.2 L522.0 981.9 L531.7 980.6 L541.4 979.4 L551.1 978.1 L560.8 985.7 L570.4 984.9 L580.1 984.2 L589.8 983.4 L599.5 982.7 L609.2 981.9 L618.9 981.2 L628.5 980.4 L638.2 979.7 L647.9 983.1 L657.6 982.0 L667.3 981.0 L677.0 980.0 L686.6 979.0 L696.3 977.9 L706.0 976.9 L715.7 975.9 L725.4 978.7 L735.1 986.8 L744.8 985.5 L754.4 986.9 L764.1 988.2 L773.8 988.7 L783.5 989.6 L793.2 990.5 L802.9 990.1 L812.5 990.3 L822.2 990.5 L831.9 990.7 L841.6 991.0 L851.3 991.3 L861.0 991.6 L899.7 992.3 L1635.7 992.3" fill="none" stroke="#808080" stroke-width="1.6" stroke-linejoin="round"/>
<path d="M192.8 1096.3 L202.4 1079.0 L212.1 1060.9 L221.8 1034.8 L231.5 1019.7 L241.2 1009.4 L250.9 1003.3 L260.5 999.1 L270.2 996.4 L279.9 994.3 L289.6 992.3 L299.3 992.3 L309.0 992.3 L318.6 990.2 L328.3 988.3 L338.0 990.7 L347.7 989.8 L357.4 988.8 L367.1 987.9 L376.8 989.6 L386.4 988.4 L396.1 987.2 L405.8 986.0 L415.5 984.8 L425.2 983.6 L434.9 982.4 L444.5 981.2 L454.2 980.0 L463.9 978.8 L473.6 977.6 L483.3 983.7 L493.0 982.1 L502.6 980.4 L512.3 978.8 L522.0 977.1 L531.7 975.5 L541.4 973.8 L551.1 972.2 L560.8 977.9 L570.4 976.6 L580.1 975.2 L589.8 973.8 L599.5 972.4 L609.2 971.0 L618.9 972.3 L628.5 981.1 L638.2 980.1 L647.9 979.1 L657.6 978.1 L667.3 983.2 L677.0 982.0 L686.6 980.8 L696.3 979.6 L706.0 986.1 L715.7 984.9 L725.4 983.8 L735.1 982.6 L744.8 985.5 L754.4 986.8 L764.1 987.9 L773.8 988.8 L783.5 989.7 L793.2 989.8 L802.9 990.0 L812.5 990.3 L822.2 990.5 L831.9 990.7 L841.6 990.9 L851.3 991.4 L861.0 991.6 L899.7 992.3 L1635.7 992.3" fill="none" stroke="#808080" stroke-width="1.6" stroke-linejoin="round"/>
<path d="M192.8 1096.3 L202.4 1101.0 L212.1 1102.3 L221.8 1103.0 L231.5 1103.2 L241.2 1102.0 L250.9 1099.9 L260.5 1097.5 L270.2 1095.1 L279.9 1092.1 L289.6 1088.3 L299.3 1084.2 L309.0 1079.4 L318.6 1045.8 L328.3 1019.7 L338.0 1019.7 L347.7 1019.7 L357.4 1009.4 L367.1 1002.6 L376.8 997.1 L386.4 993.7 L396.1 989.2 L405.8 986.1 L415.5 983.1 L425.2 980.0 L434.9 976.9 L444.5 973.8 L454.2 981.2 L463.9 980.4 L473.6 979.5 L483.3 978.6 L493.0 982.7 L502.6 981.5 L512.3 980.2 L522.0 979.0 L531.7 977.8 L541.4 976.5 L551.1 975.3 L560.8 974.1 L570.4 972.9 L580.1 971.6 L589.8 970.4 L599.5 981.4 L609.2 980.6 L618.9 979.8 L628.5 979.0 L638.2 978.1 L647.9 977.3 L657.6 976.5 L667.3 975.7 L677.0 974.8 L686.6 974.0 L696.3 973.2 L706.0 972.4 L715.7 983.6 L725.4 982.8 L735.1 982.4 L744.8 985.7 L754.4 987.1 L764.1 987.9 L773.8 989.0 L783.5 989.6 L793.2 990.5 L802.9 990.1 L812.5 990.4 L822.2 990.5 L831.9 990.7 L841.6 991.0 L851.3 991.3 L861.0 991.6 L899.7 992.3 L1635.7 992.3" fill="none" stroke="#808080" stroke-width="1.6" stroke-linejoin="round"/>
<path d="M192.8 1096.3 L202.4 1103.1 L212.1 1108.9 L221.8 1113.6 L231.5 1117.6 L241.2 1120.9 L250.9 1123.6 L260.5 1125.9 L270.2 1127.8 L279.9 1129.4 L289.6 1074.7 L299.3 1041.9 L309.0 1022.1 L318.6 1014.4 L328.3 1006.6 L338.0 1001.7 L347.7 999.6 L357.4 997.4 L367.1 996.2 L376.8 994.8 L386.4 993.9 L396.1 989.3 L405.8 986.3 L415.5 983.2 L425.2 980.2 L434.9 977.2 L444.5 985.4 L454.2 984.4 L463.9 983.3 L473.6 982.3 L483.3 981.3 L493.0 980.2 L502.6 979.2 L512.3 978.2 L522.0 984.6 L531.7 983.5 L541.4 982.5 L551.1 981.4 L560.8 980.4 L570.4 979.3 L580.1 978.3 L589.8 977.2 L599.5 976.1 L609.2 981.9 L618.9 980.3 L628.5 978.7 L638.2 977.1 L647.9 975.5 L657.6 973.9 L667.3 972.3 L677.0 970.7 L686.6 969.1 L696.3 967.5 L706.0 975.2 L715.7 974.2 L725.4 979.1 L735.1 987.5 L744.8 986.4 L754.4 986.8 L764.1 990.2 L773.8 989.3 L783.5 989.7 L793.2 989.9 L802.9 990.0 L812.5 990.3 L822.2 990.5 L831.9 990.7 L841.6 990.9 L851.3 991.3 L861.0 991.6 L899.7 992.3 L1635.7 992.3" fill="none" stroke="#808080" stroke-width="1.6" stroke-linejoin="round"/>
<path d="M192.8 1096.3 L202.4 1103.1 L212.1 1108.9 L221.8 1113.6 L231.5 1117.6 L241.2 1120.9 L250.9 1123.6 L260.5 1125.9 L270.2 1069.8 L279.9 1037.2 L289.6 1018.3 L299.3 1010.6 L309.0 1005.3 L318.6 1000.8 L328.3 998.7 L338.0 996.6 L347.7 995.5 L357.4 994.5 L367.1 993.8 L376.8 988.1 L386.4 984.0 L396.1 979.8 L405.8 975.7 L415.5 971.9 L425.2 980.4 L434.9 979.6 L444.5 978.8 L454.2 978.0 L463.9 977.2 L473.6 976.4 L483.3 975.6 L493.0 979.2 L502.6 977.7 L512.3 976.3 L522.0 974.8 L531.7 973.7 L541.4 987.6 L551.1 986.6 L560.8 985.6 L570.4 984.7 L580.1 983.7 L589.8 982.7 L599.5 981.8 L609.2 980.8 L618.9 987.6 L628.5 986.5 L638.2 985.4 L647.9 984.3 L657.6 983.3 L667.3 982.2 L677.0 981.1 L686.6 980.0 L696.3 979.0 L706.0 977.9 L715.7 981.9 L725.4 980.4 L735.1 982.1 L744.8 989.5 L754.4 988.5 L764.1 987.9 L773.8 988.7 L783.5 990.0 L793.2 989.9 L802.9 990.1 L812.5 990.4 L822.2 990.5 L831.9 990.7 L841.6 990.9 L851.3 991.3 L861.0 991.6 L899.7 992.3 L1635.7 992.3" fill="none" stroke="#808080" stroke-width="1.6" stroke-linejoin="round"/>
<path d="M192.8 1096.3 L202.4 1103.1 L212.1 1108.9 L221.8 1113.6 L231.5 1117.6 L241.2 1120.9 L250.9 1123.6 L260.5 1077.4 L270.2 1047.4 L279.9 1028.0 L289.6 1018.6 L299.3 1008.3 L309.0 1002.9 L318.6 1000.3 L328.3 997.6 L338.0 996.5 L347.7 995.2 L357.4 994.4 L367.1 994.0 L376.8 989.6 L386.4 986.9 L396.1 984.3 L405.8 981.6 L415.5 978.9 L425.2 976.2 L434.9 979.7 L444.5 978.6 L454.2 977.5 L463.9 976.4 L473.6 975.3 L483.3 974.2 L493.0 973.1 L502.6 972.8 L512.3 976.1 L522.0 983.6 L531.7 982.3 L541.4 980.9 L551.1 979.6 L560.8 978.3 L570.4 976.9 L580.1 975.6 L589.8 974.2 L599.5 972.9 L609.2 971.6 L618.9 972.5 L628.5 982.7 L638.2 981.8 L647.9 980.9 L657.6 980.1 L667.3 979.2 L677.0 978.3 L686.6 986.8 L696.3 985.6 L706.0 984.4 L715.7 983.2 L725.4 981.9 L735.1 982.0 L744.8 985.6 L754.4 989.8 L764.1 988.8 L773.8 988.8 L783.5 989.7 L793.2 990.0 L802.9 990.1 L812.5 990.5 L822.2 990.5 L831.9 990.7 L841.6 990.9 L851.3 991.3 L861.0 991.6 L899.7 992.3 L1635.7 992.3" fill="none" stroke="#808080" stroke-width="1.6" stroke-linejoin="round"/>
<path d="M192.8 1096.3 L202.4 1102.9 L212.1 1108.1 L221.8 1112.3 L231.5 1115.8 L241.2 1118.6 L250.9 1120.8 L260.5 1122.5 L270.2 1123.9 L279.9 1125.0 L289.6 1068.4 L299.3 1035.9 L309.0 1017.3 L318.6 1011.8 L328.3 1005.2 L338.0 1000.3 L347.7 997.6 L357.4 996.5 L367.1 994.9 L376.8 994.1 L386.4 989.6 L396.1 986.9 L405.8 984.2 L415.5 981.5 L425.2 978.8 L434.9 976.0 L444.5 988.1 L454.2 986.5 L463.9 984.8 L473.6 983.2 L483.3 989.1 L493.0 987.7 L502.6 986.3 L512.3 985.0 L522.0 983.6 L531.7 982.2 L541.4 980.8 L551.1 979.5 L560.8 978.1 L570.4 976.7 L580.1 975.3 L589.8 987.5 L599.5 986.3 L609.2 985.2 L618.9 984.0 L628.5 982.9 L638.2 981.7 L647.9 980.6 L657.6 979.4 L667.3 985.1 L677.0 983.7 L686.6 982.3 L696.3 980.8 L706.0 979.4 L715.7 977.9 L725.4 979.0 L735.1 985.5 L744.8 985.5 L754.4 986.8 L764.1 988.9 L773.8 988.8 L783.5 990.3 L793.2 989.8 L802.9 990.1 L812.5 990.2 L822.2 990.5 L831.9 990.7 L841.6 990.9 L851.3 991.3 L861.0 991.6 L899.7 992.3 L1635.7 992.3" fill="none" stroke="#808080" stroke-width="1.6" stroke-linejoin="round"/>
<path d="M192.8 1096.3 L202.4 1102.9 L212.1 1108.1 L221.8 1112.3 L231.5 1115.8 L241.2 1118.6 L250.9 1120.8 L260.5 1122.5 L270.2 1075.1 L279.9 1044.9 L289.6 1025.7 L299.3 1017.1 L309.0 1011.6 L318.6 1007.6 L328.3 1003.0 L338.0 999.8 L347.7 997.0 L357.4 995.4 L367.1 994.5 L376.8 993.7 L386.4 990.0 L396.1 987.7 L405.8 985.5 L415.5 983.2 L425.2 980.9 L434.9 978.6 L444.5 976.4 L454.2 974.1 L463.9 971.8 L473.6 972.1 L483.3 977.8 L493.0 976.7 L502.6 975.5 L512.3 976.6 L522.0 980.5 L531.7 979.0 L541.4 977.5 L551.1 976.0 L560.8 984.7 L570.4 983.8 L580.1 982.8 L589.8 981.8 L599.5 980.9 L609.2 979.9 L618.9 979.0 L628.5 978.0 L638.2 977.1 L647.9 976.1 L657.6 975.1 L667.3 974.2 L677.0 982.9 L686.6 981.8 L696.3 980.7 L706.0 979.6 L715.7 989.2 L725.4 988.5 L735.1 987.8 L744.8 987.1 L754.4 986.6 L764.1 989.9 L773.8 989.2 L783.5 989.6 L793.2 989.8 L802.9 990.4 L812.5 990.2 L822.2 990.5 L831.9 990.7 L841.6 990.9 L851.3 991.3 L861.0 991.6 L899.7 992.3 L1635.7 992.3" fill="none" stroke="#808080" stroke-width="1.6" stroke-linejoin="round"/>
<path d="M192.8 1096.3 L202.4 1102.9 L212.1 1108.1 L221.8 1112.3 L231.5 1115.8 L241.2 1118.6 L250.9 1067.3 L260.5 1036.8 L270.2 1018.8 L279.9 1010.0 L289.6 1006.0 L299.3 1000.6 L309.0 997.6 L318.6 996.2 L328.3 995.0 L338.0 993.9 L347.7 988.7 L357.4 985.1 L367.1 981.4 L376.8 977.8 L386.4 974.2 L396.1 973.4 L405.8 984.2 L415.5 983.4 L425.2 982.6 L434.9 981.8 L444.5 981.0 L454.2 980.2 L463.9 979.4 L473.6 978.6 L483.3 977.8 L493.0 977.0 L502.6 976.2 L512.3 979.6 L522.0 978.8 L531.7 977.9 L541.4 977.0 L551.1 976.1 L560.8 975.2 L570.4 986.0 L580.1 984.5 L589.8 983.0 L599.5 981.5 L609.2 980.0 L618.9 987.7 L628.5 986.4 L638.2 985.1 L647.9 983.7 L657.6 982.4 L667.3 988.3 L677.0 987.2 L686.6 986.1 L696.3 985.0 L706.0 983.8 L715.7 982.7 L725.4 981.6 L735.1 982.2 L744.8 985.5 L754.4 986.8 L764.1 987.9 L773.8 988.7 L783.5 989.7 L793.2 989.8 L802.9 990.1 L812.5 990.4 L822.2 990.5 L831.9 990.7 L841.6 990.9 L851.3 991.3 L861.0 991.6 L899.7 992.3 L1635.7 992.3" fill="none" stroke="#808080" stroke-width="1.6" stroke-linejoin="round"/>
<path d="M192.8 1096.3 L202.4 1102.6 L212.1 1107.2 L221.8 1111.0 L231.5 1114.0 L241.2 1116.2 L250.9 1117.7 L260.5 1118.8 L270.2 1119.7 L279.9 1120.1 L289.6 1072.1 L299.3 1042.1 L309.0 1023.4 L318.6 1016.1 L328.3 1007.2 L338.0 1002.3 L347.7 999.8 L357.4 998.2 L367.1 996.7 L376.8 995.0 L386.4 994.2 L396.1 989.4 L405.8 986.4 L415.5 983.5 L425.2 980.5 L434.9 977.6 L444.5 974.7 L454.2 971.7 L463.9 970.3 L473.6 985.2 L483.3 984.3 L493.0 983.4 L502.6 982.6 L512.3 981.7 L522.0 980.8 L531.7 980.0 L541.4 988.6 L551.1 987.0 L560.8 985.4 L570.4 983.7 L580.1 982.1 L589.8 980.5 L599.5 978.8 L609.2 977.2 L618.9 975.6 L628.5 973.9 L638.2 972.3 L647.9 987.2 L657.6 986.5 L667.3 985.8 L677.0 985.1 L686.6 984.4 L696.3 983.7 L706.0 983.0 L715.7 982.3 L725.4 981.6 L735.1 982.5 L744.8 985.7 L754.4 987.1 L764.1 987.9 L773.8 989.2 L783.5 989.6 L793.2 989.9 L802.9 990.1 L812.5 990.3 L822.2 990.5 L831.9 990.7 L841.6 991.0 L851.3 991.3 L861.0 991.6 L899.7 992.3 L1635.7 992.3" fill="none" stroke="#808080" stroke-width="1.6" stroke-linejoin="round"/>
<path d="M192.8 1096.3 L202.4 1102.6 L212.1 1107.2 L221.8 1111.0 L231.5 1114.0 L241.2 1116.2 L250.9 1117.7 L260.5 1065.5 L270.2 1035.0 L279.9 1017.2 L289.6 1009.0 L299.3 1003.9 L309.0 1000.6 L318.6 997.9 L328.3 996.1 L338.0 994.6 L347.7 993.9 L357.4 989.8 L367.1 987.3 L376.8 984.8 L386.4 982.3 L396.1 979.8 L405.8 977.3 L415.5 974.8 L425.2 972.4 L434.9 977.5 L444.5 976.3 L454.2 975.0 L463.9 973.7 L473.6 972.5 L483.3 971.2 L493.0 969.9 L502.6 973.1 L512.3 976.6 L522.0 984.3 L531.7 983.4 L541.4 982.4 L551.1 981.5 L560.8 980.5 L570.4 985.6 L580.1 984.8 L589.8 984.0 L599.5 983.1 L609.2 982.3 L618.9 981.5 L628.5 980.7 L638.2 979.9 L647.9 979.0 L657.6 978.2 L667.3 977.4 L677.0 976.6 L686.6 979.8 L696.3 978.2 L706.0 976.6 L715.7 975.1 L725.4 981.6 L735.1 982.2 L744.8 985.6 L754.4 986.9 L764.1 987.9 L773.8 989.0 L783.5 989.6 L793.2 989.8 L802.9 990.0 L812.5 990.2 L822.2 990.5 L831.9 990.7 L841.6 991.0 L851.3 991.3 L861.0 991.6 L899.7 992.3 L1635.7 992.3" fill="none" stroke="#808080" stroke-width="1.6" stroke-linejoin="round"/>
<path d="M192.8 1096.3 L202.4 1102.6 L212.1 1107.2 L221.8 1111.0 L231.5 1114.0 L241.2 1116.2 L250.9 1070.0 L260.5 1041.1 L270.2 1022.9 L279.9 1012.2 L289.6 1006.5 L299.3 1002.7 L309.0 1000.5 L318.6 997.4 L328.3 995.5 L338.0 994.8 L347.7 994.1 L357.4 988.6 L367.1 984.9 L376.8 981.2 L386.4 977.5 L396.1 973.8 L405.8 972.9 L415.5 972.3 L425.2 971.1 L434.9 984.7 L444.5 983.8 L454.2 982.8 L463.9 981.9 L473.6 981.0 L483.3 980.0 L493.0 983.6 L502.6 982.3 L512.3 981.0 L522.0 979.7 L531.7 984.2 L541.4 983.3 L551.1 982.4 L560.8 981.5 L570.4 980.6 L580.1 979.7 L589.8 978.8 L599.5 985.1 L609.2 983.6 L618.9 982.0 L628.5 980.5 L638.2 978.9 L647.9 977.4 L657.6 975.8 L667.3 974.3 L677.0 972.8 L686.6 971.2 L696.3 976.9 L706.0 975.6 L715.7 974.3 L725.4 979.1 L735.1 982.0 L744.8 985.7 L754.4 986.7 L764.1 990.7 L773.8 989.7 L783.5 989.6 L793.2 989.9 L802.9 990.0 L812.5 990.2 L822.2 990.5 L831.9 990.7 L841.6 990.9 L851.3 991.3 L861.0 991.6 L899.7 992.3 L1635.7 992.3" fill="none" stroke="#808080" stroke-width="1.6" stroke-linejoin="round"/>
<path d="M192.8 1096.3 L202.4 1102.6 L212.1 1107.2 L221.8 1111.0 L231.5 1114.0 L241.2 1062.6 L250.9 1032.9 L260.5 1015.7 L270.2 1007.1 L279.9 1001.6 L289.6 999.3 L299.3 996.6 L309.0 995.6 L318.6 994.5 L328.3 993.9 L338.0 990.0 L347.7 987.8 L357.4 985.6 L367.1 983.3 L376.8 981.1 L386.4 978.8 L396.1 976.6 L405.8 974.4 L415.5 972.1 L425.2 971.0 L434.9 977.9 L444.5 976.5 L454.2 975.0 L463.9 973.6 L473.6 972.2 L483.3 970.7 L493.0 970.3 L502.6 972.8 L512.3 985.1 L522.0 983.9 L531.7 982.7 L541.4 981.5 L551.1 980.3 L560.8 979.1 L570.4 977.9 L580.1 976.7 L589.8 988.0 L599.5 987.3 L609.2 986.6 L618.9 985.9 L628.5 985.2 L638.2 984.6 L647.9 983.9 L657.6 983.2 L667.3 988.9 L677.0 987.4 L686.6 986.0 L696.3 984.5 L706.0 983.1 L715.7 981.6 L725.4 980.1 L735.1 982.0 L744.8 988.0 L754.4 986.6 L764.1 988.0 L773.8 989.7 L783.5 989.6 L793.2 989.8 L802.9 990.1 L812.5 990.3 L822.2 990.5 L831.9 990.8 L841.6 991.0 L851.3 991.3 L861.0 991.6 L899.7 992.3 L1635.7 992.3" fill="none" stroke="#808080" stroke-width="1.6" stroke-linejoin="round"/>
<path d="M192.8 1096.3 L202.4 1102.3 L212.1 1106.2 L221.8 1109.4 L231.5 1111.8 L241.2 1113.3 L250.9 1114.2 L260.5 1114.6 L270.2 1114.8 L279.9 1066.1 L289.6 1036.8 L299.3 1019.1 L309.0 1013.3 L318.6 1008.9 L328.3 1004.3 L338.0 1000.0 L347.7 997.3 L357.4 995.6 L367.1 994.5 L376.8 993.7 L386.4 989.5 L396.1 986.6 L405.8 983.8 L415.5 981.0 L425.2 978.1 L434.9 975.3 L444.5 972.5 L454.2 969.6 L463.9 970.5 L473.6 985.3 L483.3 984.1 L493.0 982.8 L502.6 981.6 L512.3 980.4 L522.0 979.1 L531.7 977.9 L541.4 976.7 L551.1 975.4 L560.8 974.2 L570.4 973.0 L580.1 982.3 L589.8 980.7 L599.5 979.1 L609.2 977.5 L618.9 975.9 L628.5 974.4 L638.2 978.5 L647.9 977.7 L657.6 976.9 L667.3 976.1 L677.0 975.3 L686.6 974.4 L696.3 973.6 L706.0 972.8 L715.7 985.1 L725.4 984.1 L735.1 983.0 L744.8 985.6 L754.4 986.9 L764.1 987.9 L773.8 989.0 L783.5 989.6 L793.2 990.1 L802.9 990.0 L812.5 990.2 L822.2 990.5 L831.9 990.9 L841.6 990.9 L851.3 991.3 L861.0 991.6 L899.7 992.3 L1635.7 992.3" fill="none" stroke="#808080" stroke-width="1.6" stroke-linejoin="round"/>
<path d="M192.8 1096.3 L202.4 1102.3 L212.1 1106.2 L221.8 1109.4 L231.5 1111.8 L241.2 1113.3 L250.9 1114.2 L260.5 1069.5 L270.2 1041.2 L279.9 1023.3 L289.6 1015.1 L299.3 1006.2 L309.0 1002.0 L318.6 998.6 L328.3 996.6 L338.0 995.0 L347.7 993.9 L357.4 990.4 L367.1 988.4 L376.8 986.5 L386.4 984.5 L396.1 982.6 L405.8 980.7 L415.5 982.3 L425.2 980.6 L434.9 979.0 L444.5 977.4 L454.2 975.8 L463.9 984.7 L473.6 983.9 L483.3 983.0 L493.0 982.1 L502.6 981.3 L512.3 980.4 L522.0 979.6 L531.7 978.7 L541.4 977.9 L551.1 977.0 L560.8 976.1 L570.4 975.3 L580.1 986.8 L589.8 985.4 L599.5 984.0 L609.2 982.6 L618.9 981.3 L628.5 979.9 L638.2 978.5 L647.9 977.1 L657.6 975.7 L667.3 974.3 L677.0 972.9 L686.6 971.5 L696.3 975.6 L706.0 974.4 L715.7 973.2 L725.4 978.7 L735.1 982.5 L744.8 985.5 L754.4 986.8 L764.1 990.6 L773.8 989.7 L783.5 989.5 L793.2 990.1 L802.9 990.1 L812.5 990.3 L822.2 990.5 L831.9 990.7 L841.6 991.0 L851.3 991.3 L861.0 991.6 L899.7 992.3 L1635.7 992.3" fill="none" stroke="#808080" stroke-width="1.6" stroke-linejoin="round"/>
<path d="M192.8 1096.3 L202.4 1102.3 L212.1 1106.2 L221.8 1109.4 L231.5 1111.8 L241.2 1062.7 L250.9 1033.8 L260.5 1016.7 L270.2 1009.4 L279.9 1005.9 L289.6 1002.4 L299.3 999.8 L309.0 998.3 L318.6 996.9 L328.3 995.7 L338.0 994.4 L347.7 993.8 L357.4 987.5 L367.1 982.6 L376.8 977.8 L386.4 973.8 L396.1 982.4 L405.8 981.5 L415.5 980.5 L425.2 979.5 L434.9 978.5 L444.5 977.5 L454.2 976.5 L463.9 975.5 L473.6 974.5 L483.3 973.5 L493.0 972.6 L502.6 982.5 L512.3 981.2 L522.0 979.9 L531.7 978.6 L541.4 984.8 L551.1 983.5 L560.8 982.3 L570.4 981.0 L580.1 979.8 L589.8 978.5 L599.5 977.3 L609.2 976.0 L618.9 974.7 L628.5 973.5 L638.2 972.2 L647.9 985.2 L657.6 983.9 L667.3 982.6 L677.0 981.3 L686.6 980.0 L696.3 978.7 L706.0 977.4 L715.7 976.1 L725.4 978.7 L735.1 987.1 L744.8 985.9 L754.4 986.7 L764.1 988.0 L773.8 988.8 L783.5 989.9 L793.2 989.8 L802.9 990.1 L812.5 990.3 L822.2 990.5 L831.9 990.7 L841.6 990.9 L851.3 991.3 L861.0 991.6 L899.7 992.3 L1635.7 992.3" fill="none" stroke="#808080" stroke-width="1.6" stroke-linejoin="round"/>
<path d="M192.8 1096.3 L202.4 1102.0 L212.1 1105.3 L221.8 1107.8 L231.5 1109.6 L241.2 1110.5 L250.9 1110.6 L260.5 1110.3 L270.2 1066.2 L279.9 1038.6 L289.6 1021.3 L299.3 1011.9 L309.0 1005.5 L318.6 1001.9 L328.3 999.1 L338.0 996.8 L347.7 995.6 L357.4 994.4 L367.1 993.7 L376.8 988.2 L386.4 984.1 L396.1 980.0 L405.8 975.9 L415.5 971.8 L425.2 970.5 L434.9 969.5 L444.5 978.5 L454.2 977.5 L463.9 976.5 L473.6 975.4 L483.3 981.8 L493.0 980.5 L502.6 979.2 L512.3 977.9 L522.0 976.7 L531.7 975.4 L541.4 974.1 L551.1 972.8 L560.8 971.5 L570.4 970.2 L580.1 969.0 L589.8 967.7 L599.5 982.5 L609.2 981.5 L618.9 980.4 L628.5 979.4 L638.2 978.3 L647.9 977.3 L657.6 976.2 L667.3 975.2 L677.0 974.1 L686.6 973.1 L696.3 972.0 L706.0 971.0 L715.7 981.5 L725.4 980.8 L735.1 982.4 L744.8 987.4 L754.4 986.8 L764.1 990.1 L773.8 988.8 L783.5 989.6 L793.2 989.8 L802.9 990.0 L812.5 990.3 L822.2 990.5 L831.9 990.7 L841.6 990.9 L851.3 991.3 L861.0 991.6 L899.7 992.3 L1635.7 992.3" fill="none" stroke="#808080" stroke-width="1.6" stroke-linejoin="round"/>
<path d="M192.8 1096.3 L202.4 1102.0 L212.1 1105.3 L221.8 1107.8 L231.5 1109.6 L241.2 1110.5 L250.9 1064.4 L260.5 1036.2 L270.2 1019.1 L279.9 1013.2 L289.6 1008.0 L299.3 1001.8 L309.0 999.1 L318.6 997.0 L328.3 995.6 L338.0 994.8 L347.7 994.0 L357.4 990.0 L367.1 987.6 L376.8 985.3 L386.4 983.0 L396.1 980.7 L405.8 978.4 L415.5 986.1 L425.2 985.2 L434.9 984.4 L444.5 983.6 L454.2 982.8 L463.9 982.0 L473.6 981.2 L483.3 980.4 L493.0 979.5 L502.6 978.7 L512.3 977.9 L522.0 982.9 L531.7 981.6 L541.4 980.2 L551.1 978.8 L560.8 984.3 L570.4 982.7 L580.1 981.1 L589.8 979.6 L599.5 978.0 L609.2 976.4 L618.9 974.8 L628.5 973.3 L638.2 971.7 L647.9 972.4 L657.6 979.3 L667.3 978.5 L677.0 977.7 L686.6 976.9 L696.3 976.1 L706.0 975.3 L715.7 974.5 L725.4 979.1 L735.1 989.3 L744.8 988.6 L754.4 987.8 L764.1 987.9 L773.8 989.1 L783.5 989.6 L793.2 989.8 L802.9 990.0 L812.5 990.3 L822.2 990.5 L831.9 990.8 L841.6 990.9 L851.3 991.3 L861.0 991.6 L899.7 992.3 L1635.7 992.3" fill="none" stroke="#808080" stroke-width="1.6" stroke-linejoin="round"/>
<path d="M192.8 1096.3 L202.4 1102.0 L212.1 1105.3 L221.8 1107.8 L231.5 1109.6 L241.2 1059.7 L250.9 1031.0 L260.5 1014.5 L270.2 1008.0 L279.9 1002.9 L289.6 999.6 L299.3 997.4 L309.0 996.0 L318.6 994.8 L328.3 994.2 L338.0 989.0 L347.7 985.7 L357.4 982.4 L367.1 979.2 L376.8 975.9 L386.4 989.0 L396.1 988.2 L405.8 987.5 L415.5 986.7 L425.2 986.0 L434.9 985.2 L444.5 984.5 L454.2 983.7 L463.9 983.0 L473.6 989.8 L483.3 988.9 L493.0 988.0 L502.6 987.1 L512.3 986.2 L522.0 985.3 L531.7 984.4 L541.4 983.5 L551.1 982.6 L560.8 987.8 L570.4 986.4 L580.1 985.0 L589.8 983.7 L599.5 982.3 L609.2 980.9 L618.9 979.6 L628.5 978.2 L638.2 976.8 L647.9 975.5 L657.6 974.1 L667.3 983.7 L677.0 982.4 L686.6 981.0 L696.3 979.6 L706.0 978.2 L715.7 976.8 L725.4 979.1 L735.1 986.8 L744.8 985.5 L754.4 986.9 L764.1 988.0 L773.8 990.3 L783.5 989.6 L793.2 989.9 L802.9 990.2 L812.5 990.3 L822.2 991.0 L831.9 990.8 L841.6 991.0 L851.3 991.3 L861.0 991.6 L899.7 992.3 L1635.7 992.3" fill="none" stroke="#808080" stroke-width="1.6" stroke-linejoin="round"/>
<path d="M192.8 1096.3 L202.4 1101.5 L212.1 1104.0 L221.8 1105.7 L231.5 1106.8 L241.2 1106.7 L250.9 1105.9 L260.5 1104.6 L270.2 1103.3 L279.9 1101.4 L289.6 1057.3 L299.3 1031.0 L309.0 1015.3 L318.6 1008.7 L328.3 1002.6 L338.0 1000.4 L347.7 997.7 L357.4 996.4 L367.1 994.9 L376.8 994.3 L386.4 989.2 L396.1 986.2 L405.8 983.1 L415.5 980.1 L425.2 977.0 L434.9 985.2 L444.5 983.9 L454.2 982.6 L463.9 981.3 L473.6 980.0 L483.3 978.7 L493.0 977.4 L502.6 976.1 L512.3 976.5 L522.0 987.2 L531.7 986.4 L541.4 985.6 L551.1 984.7 L560.8 983.9 L570.4 987.5 L580.1 986.2 L589.8 984.9 L599.5 983.5 L609.2 982.2 L618.9 980.8 L628.5 989.3 L638.2 988.3 L647.9 987.2 L657.6 986.2 L667.3 985.2 L677.0 985.4 L686.6 983.8 L696.3 982.2 L706.0 980.6 L715.7 979.0 L725.4 978.9 L735.1 989.2 L744.8 987.8 L754.4 986.7 L764.1 988.0 L773.8 989.2 L783.5 989.7 L793.2 989.8 L802.9 990.6 L812.5 990.2 L822.2 990.6 L831.9 990.7 L841.6 991.0 L851.3 991.3 L861.0 991.6 L899.7 992.3 L1635.7 992.3" fill="none" stroke="#808080" stroke-width="1.6" stroke-linejoin="round"/>
<path d="M192.8 1096.3 L202.4 1101.5 L212.1 1104.0 L221.8 1105.7 L231.5 1106.8 L241.2 1106.7 L250.9 1105.9 L260.5 1058.1 L270.2 1030.4 L279.9 1014.3 L289.6 1006.2 L299.3 1001.7 L309.0 998.0 L318.6 995.8 L328.3 994.8 L338.0 994.0 L347.7 989.1 L357.4 986.0 L367.1 982.9 L376.8 979.7 L386.4 976.6 L396.1 973.5 L405.8 973.2 L415.5 972.0 L425.2 983.7 L434.9 982.2 L444.5 980.7 L454.2 979.2 L463.9 977.7 L473.6 986.5 L483.3 985.6 L493.0 984.6 L502.6 983.7 L512.3 982.8 L522.0 981.8 L531.7 980.9 L541.4 980.0 L551.1 979.0 L560.8 978.1 L570.4 977.2 L580.1 981.2 L589.8 980.4 L599.5 979.6 L609.2 978.8 L618.9 978.0 L628.5 986.6 L638.2 985.4 L647.9 984.2 L657.6 983.0 L667.3 981.8 L677.0 980.6 L686.6 979.4 L696.3 978.2 L706.0 977.0 L715.7 975.8 L725.4 979.0 L735.1 989.6 L744.8 988.6 L754.4 987.7 L764.1 987.8 L773.8 990.5 L783.5 989.7 L793.2 989.9 L802.9 990.1 L812.5 990.3 L822.2 990.5 L831.9 990.7 L841.6 991.0 L851.3 991.3 L861.0 991.6 L899.7 992.3 L1635.7 992.3" fill="none" stroke="#808080" stroke-width="1.6" stroke-linejoin="round"/>
<path d="M192.8 1096.3 L202.4 1101.5 L212.1 1104.0 L221.8 1105.7 L231.5 1106.8 L241.2 1058.6 L250.9 1030.8 L260.5 1014.6 L270.2 1008.6 L279.9 1002.8 L289.6 999.1 L299.3 997.4 L309.0 995.9 L318.6 995.0 L328.3 994.4 L338.0 993.6 L347.7 987.2 L357.4 982.1 L367.1 977.0 L376.8 974.5 L386.4 974.0 L396.1 979.5 L405.8 978.4 L415.5 977.3 L425.2 976.2 L434.9 975.0 L444.5 988.0 L454.2 986.4 L463.9 984.8 L473.6 983.2 L483.3 981.6 L493.0 980.1 L502.6 984.0 L512.3 983.2 L522.0 982.5 L531.7 981.8 L541.4 981.1 L551.1 980.4 L560.8 979.7 L570.4 978.9 L580.1 978.2 L589.8 977.5 L599.5 987.6 L609.2 986.4 L618.9 985.2 L628.5 984.1 L638.2 982.9 L647.9 981.7 L657.6 980.5 L667.3 988.4 L677.0 987.4 L686.6 986.4 L696.3 985.4 L706.0 984.4 L715.7 983.4 L725.4 988.3 L735.1 986.7 L744.8 985.5 L754.4 986.9 L764.1 990.3 L773.8 989.1 L783.5 989.6 L793.2 990.3 L802.9 990.0 L812.5 990.3 L822.2 990.5 L831.9 990.8 L841.6 990.9 L851.3 991.3 L861.0 991.6 L899.7 992.3 L1635.7 992.3" fill="none" stroke="#808080" stroke-width="1.6" stroke-linejoin="round"/>
<path d="M192.8 1096.3 L202.4 1101.0 L212.1 1102.3 L221.8 1103.0 L231.5 1103.2 L241.2 1059.3 L250.9 1032.8 L260.5 1016.8 L270.2 1011.1 L279.9 1006.5 L289.6 1003.3 L299.3 999.5 L309.0 998.0 L318.6 996.3 L328.3 995.5 L338.0 994.3 L347.7 988.0 L357.4 983.7 L367.1 979.4 L376.8 975.1 L386.4 974.0 L396.1 985.8 L405.8 984.6 L415.5 983.5 L425.2 982.3 L434.9 981.1 L444.5 980.0 L454.2 978.8 L463.9 977.7 L473.6 976.5 L483.3 975.4 L493.0 974.2 L502.6 973.0 L512.3 984.5 L522.0 983.1 L531.7 981.7 L541.4 980.2 L551.1 983.4 L560.8 982.3 L570.4 981.3 L580.1 980.2 L589.8 979.1 L599.5 978.0 L609.2 977.0 L618.9 975.9 L628.5 974.8 L638.2 985.9 L647.9 984.6 L657.6 983.3 L667.3 981.9 L677.0 980.6 L686.6 984.3 L696.3 982.8 L706.0 981.2 L715.7 979.7 L725.4 979.0 L735.1 987.0 L744.8 986.3 L754.4 986.9 L764.1 988.0 L773.8 988.8 L783.5 990.7 L793.2 989.8 L802.9 990.9 L812.5 990.3 L822.2 990.5 L831.9 990.8 L841.6 990.9 L851.3 991.3 L861.0 991.6 L899.7 992.3 L1635.7 992.3" fill="none" stroke="#808080" stroke-width="1.6" stroke-linejoin="round"/>
<path d="M192.8 1096.3 L202.4 1101.0 L212.1 1102.3 L221.8 1103.0 L231.5 1103.2 L241.2 1102.0 L250.9 1099.9 L260.5 1097.5 L270.2 1055.6 L279.9 1030.3 L289.6 1015.2 L299.3 1006.1 L309.0 1002.9 L318.6 998.9 L328.3 996.6 L338.0 995.3 L347.7 994.5 L357.4 994.0 L367.1 987.2 L376.8 982.1 L386.4 977.0 L396.1 973.6 L405.8 973.0 L415.5 981.0 L425.2 979.9 L434.9 978.8 L444.5 977.7 L454.2 976.6 L463.9 975.5 L473.6 974.4 L483.3 973.3 L493.0 972.2 L502.6 972.8 L512.3 979.2 L522.0 977.7 L531.7 976.2 L541.4 974.8 L551.1 973.3 L560.8 971.8 L570.4 970.4 L580.1 968.9 L589.8 967.5 L599.5 966.0 L609.2 972.9 L618.9 972.4 L628.5 970.5 L638.2 969.4 L647.9 976.9 L657.6 975.3 L667.3 973.8 L677.0 972.2 L686.6 981.5 L696.3 980.3 L706.0 979.2 L715.7 978.1 L725.4 978.7 L735.1 989.5 L744.8 988.5 L754.4 987.5 L764.1 988.0 L773.8 988.7 L783.5 990.7 L793.2 989.8 L802.9 990.1 L812.5 990.3 L822.2 990.5 L831.9 990.7 L841.6 991.0 L851.3 991.3 L861.0 991.6 L899.7 992.3 L1635.7 992.3" fill="none" stroke="#808080" stroke-width="1.6" stroke-linejoin="round"/>
<path d="M192.8 1096.3 L202.4 1101.0 L212.1 1102.3 L221.8 1103.0 L231.5 1103.2 L241.2 1102.0 L250.9 1099.9 L260.5 1097.5 L270.2 1095.1 L279.9 1092.1 L289.6 1049.6 L299.3 1025.2 L309.0 1011.2 L318.6 1004.7 L328.3 1000.7 L338.0 999.0 L347.7 997.6 L357.4 995.7 L367.1 994.5 L376.8 994.0 L386.4 988.4 L396.1 984.6 L405.8 980.8 L415.5 976.9 L425.2 973.1 L434.9 969.2 L444.5 967.7 L454.2 969.3 L463.9 984.5 L473.6 983.6 L483.3 982.8 L493.0 981.9 L502.6 981.0 L512.3 980.1 L522.0 979.2 L531.7 978.4 L541.4 977.5 L551.1 976.6 L560.8 975.7 L570.4 983.7 L580.1 982.7 L589.8 981.6 L599.5 980.5 L609.2 979.4 L618.9 978.3 L628.5 977.3 L638.2 976.2 L647.9 975.1 L657.6 974.0 L667.3 973.0 L677.0 979.4 L686.6 978.4 L696.3 977.4 L706.0 976.4 L715.7 975.4 L725.4 979.2 L735.1 985.2 L744.8 985.6 L754.4 988.6 L764.1 987.9 L773.8 989.8 L783.5 989.7 L793.2 989.8 L802.9 990.7 L812.5 990.3 L822.2 990.5 L831.9 990.7 L841.6 991.0 L851.3 991.3 L861.0 991.6 L899.7 992.3 L1635.7 992.3" fill="none" stroke="#808080" stroke-width="1.6" stroke-linejoin="round"/>
<path d="M192.8 1096.3 L202.4 1101.0 L212.1 1102.3 L221.8 1103.0 L231.5 1103.2 L241.2 1102.0 L250.9 1099.9 L260.5 1097.5 L270.2 1095.1 L279.9 1092.1 L289.6 1088.3 L299.3 1048.1 L309.0 1024.7 L318.6 1011.2 L328.3 1006.4 L338.0 1001.9 L347.7 999.8 L357.4 997.3 L367.1 995.5 L376.8 994.6 L386.4 994.1 L396.1 988.8 L405.8 985.4 L415.5 982.0 L425.2 978.5 L434.9 975.1 L444.5 971.7 L454.2 969.0 L463.9 977.2 L473.6 975.8 L483.3 974.5 L493.0 973.2 L502.6 972.9 L512.3 981.8 L522.0 980.4 L531.7 979.0 L541.4 977.6 L551.1 976.2 L560.8 974.8 L570.4 973.4 L580.1 987.1 L589.8 986.1 L599.5 985.2 L609.2 984.2 L618.9 983.2 L628.5 982.3 L638.2 981.3 L647.9 980.4 L657.6 979.4 L667.3 978.5 L677.0 977.5 L686.6 976.5 L696.3 981.4 L706.0 980.0 L715.7 978.5 L725.4 978.8 L735.1 985.2 L744.8 985.6 L754.4 986.7 L764.1 987.9 L773.8 988.8 L783.5 989.6 L793.2 990.0 L802.9 990.1 L812.5 990.3 L822.2 990.5 L831.9 990.8 L841.6 991.0 L851.3 991.3 L861.0 991.6 L899.7 992.3 L1635.7 992.3" fill="none" stroke="#808080" stroke-width="1.6" stroke-linejoin="round"/>
<path d="M192.8 1096.3 L202.4 1101.0 L212.1 1102.3 L221.8 1103.0 L231.5 1103.2 L241.2 1102.0 L250.9 1099.9 L260.5 1097.5 L270.2 1095.1 L279.9 1092.1 L289.6 1088.3 L299.3 1084.2 L309.0 1050.6 L318.6 1029.3 L328.3 1015.8 L338.0 1007.7 L347.7 1002.7 L357.4 1000.5 L367.1 997.7 L376.8 995.6 L386.4 994.4 L396.1 993.7 L405.8 989.8 L415.5 987.3 L425.2 984.8 L434.9 982.3 L444.5 979.8 L454.2 982.2 L463.9 981.2 L473.6 980.2 L483.3 979.2 L493.0 978.2 L502.6 977.2 L512.3 976.2 L522.0 975.2 L531.7 974.2 L541.4 987.7 L551.1 986.5 L560.8 985.4 L570.4 984.2 L580.1 983.1 L589.8 981.9 L599.5 980.8 L609.2 979.6 L618.9 985.5 L628.5 983.9 L638.2 982.3 L647.9 980.7 L657.6 979.0 L667.3 977.4 L677.0 987.1 L686.6 985.8 L696.3 984.5 L706.0 983.2 L715.7 982.0 L725.4 980.7 L735.1 982.5 L744.8 989.4 L754.4 987.8 L764.1 988.0 L773.8 988.7 L783.5 989.6 L793.2 989.8 L802.9 990.0 L812.5 990.3 L822.2 990.5 L831.9 990.7 L841.6 991.0 L851.3 991.3 L861.0 991.6 L899.7 992.3 L1635.7 992.3" fill="none" stroke="#808080" stroke-width="1.6" stroke-linejoin="round"/>
<path d="M192.8 1096.3 L202.4 1101.0 L212.1 1102.3 L221.8 1103.0 L231.5 1103.2 L241.2 1102.0 L250.9 1099.9 L260.5 1097.5 L270.2 1095.1 L279.9 1092.1 L289.6 1088.3 L299.3 1084.2 L309.0 1079.4 L318.6 1044.3 L328.3 1023.3 L338.0 1010.8 L347.7 1004.6 L357.4 1001.9 L367.1 999.9 L376.8 998.2 L386.4 996.4 L396.1 995.0 L405.8 994.1 L415.5 989.7 L425.2 987.1 L434.9 984.6 L444.5 982.0 L454.2 979.4 L463.9 983.3 L473.6 981.7 L483.3 980.1 L493.0 978.5 L502.6 976.9 L512.3 975.9 L522.0 986.7 L531.7 985.2 L541.4 983.6 L551.1 982.1 L560.8 980.5 L570.4 979.0 L580.1 977.4 L589.8 975.9 L599.5 974.3 L609.2 972.8 L618.9 987.1 L628.5 986.4 L638.2 985.7 L647.9 985.0 L657.6 984.3 L667.3 983.6 L677.0 982.9 L686.6 982.2 L696.3 981.5 L706.0 980.8 L715.7 984.4 L725.4 983.2 L735.1 982.5 L744.8 985.4 L754.4 989.5 L764.1 988.3 L773.8 988.7 L783.5 989.6 L793.2 989.9 L802.9 990.1 L812.5 990.7 L822.2 990.5 L831.9 990.7 L841.6 990.9 L851.3 991.3 L861.0 991.6 L899.7 992.3 L1635.7 992.3" fill="none" stroke="#808080" stroke-width="1.6" stroke-linejoin="round"/>
<path d="M192.8 1096.3 L202.4 1101.5 L212.1 1104.0 L221.8 1105.7 L231.5 1106.8 L241.2 1106.7 L250.9 1105.9 L260.5 1063.5 L270.2 1037.0 L279.9 1020.3 L289.6 1011.7 L299.3 1007.4 L309.0 1003.2 L318.6 999.1 L328.3 997.0 L338.0 995.5 L347.7 994.7 L357.4 994.1 L367.1 990.6 L376.8 988.8 L386.4 987.1 L396.1 985.4 L405.8 983.6 L415.5 981.9 L425.2 980.2 L434.9 978.4 L444.5 986.6 L454.2 985.1 L463.9 983.5 L473.6 982.0 L483.3 985.0 L493.0 984.3 L502.6 983.6 L512.3 982.9 L522.0 982.2 L531.7 981.4 L541.4 980.7 L551.1 986.2 L560.8 984.6 L570.4 983.0 L580.1 981.4 L589.8 984.9 L599.5 984.1 L609.2 983.4 L618.9 982.7 L628.5 981.9 L638.2 981.2 L647.9 980.5 L657.6 984.4 L667.3 982.9 L677.0 981.3 L686.6 979.7 L696.3 978.2 L706.0 976.6 L715.7 975.0 L725.4 979.1 L735.1 986.2 L744.8 985.5 L754.4 986.9 L764.1 990.0 L773.8 988.8 L783.5 989.7 L793.2 989.8 L802.9 990.1 L812.5 990.3 L822.2 990.5 L831.9 990.7 L841.6 991.0 L851.3 991.3 L861.0 991.6 L899.7 992.3 L1635.7 992.3" fill="none" stroke="#808080" stroke-width="1.6" stroke-linejoin="round"/>
<path d="M192.8 1096.3 L202.4 1103.1 L212.1 1108.9 L221.8 1113.6 L231.5 1117.6 L241.2 1120.9 L250.9 1123.6 L260.5 1074.2 L270.2 1043.4 L279.9 1024.2 L289.6 1017.7 L299.3 1010.6 L309.0 1003.6 L318.6 1000.3 L328.3 998.1 L338.0 995.9 L347.7 994.6 L357.4 994.1 L367.1 990.3 L376.8 988.2 L386.4 986.2 L396.1 984.2 L405.8 982.2 L415.5 980.2 L425.2 978.1 L434.9 976.1 L444.5 974.1 L454.2 985.2 L463.9 984.2 L473.6 983.3 L483.3 982.3 L493.0 981.3 L502.6 980.4 L512.3 979.4 L522.0 978.4 L531.7 983.5 L541.4 981.9 L551.1 980.3 L560.8 978.7 L570.4 977.0 L580.1 975.4 L589.8 973.8 L599.5 972.2 L609.2 970.5 L618.9 972.0 L628.5 987.4 L638.2 986.0 L647.9 984.7 L657.6 983.3 L667.3 982.0 L677.0 986.4 L686.6 985.3 L696.3 984.2 L706.0 983.0 L715.7 981.9 L725.4 980.8 L735.1 982.3 L744.8 986.1 L754.4 986.7 L764.1 987.9 L773.8 988.9 L783.5 989.6 L793.2 990.0 L802.9 990.1 L812.5 990.3 L822.2 990.9 L831.9 990.8 L841.6 990.9 L851.3 991.3 L861.0 991.6 L899.7 992.3 L1635.7 992.3" fill="none" stroke="#808080" stroke-width="1.6" stroke-linejoin="round"/>
<path d="M192.8 1096.3 L202.4 1101.0 L212.1 1102.3 L221.8 1103.0 L231.5 1103.2 L241.2 1102.0 L250.9 1099.9 L260.5 1097.5 L270.2 1095.1 L279.9 1050.9 L289.6 1025.7 L299.3 1011.3 L309.0 1006.7 L318.6 1001.6 L328.3 998.5 L338.0 996.1 L347.7 994.7 L357.4 993.8 L367.1 989.1 L376.8 985.9 L386.4 982.8 L396.1 979.6 L405.8 976.4 L415.5 973.3 L425.2 970.8 L434.9 985.8 L444.5 984.6 L454.2 983.4 L463.9 982.2 L473.6 981.0 L483.3 979.8 L493.0 978.6 L502.6 977.4 L512.3 976.2 L522.0 975.0 L531.7 973.8 L541.4 985.2 L551.1 983.7 L560.8 982.1 L570.4 980.5 L580.1 979.0 L589.8 977.4 L599.5 975.8 L609.2 974.3 L618.9 972.7 L628.5 971.1 L638.2 969.6 L647.9 971.8 L657.6 980.3 L667.3 979.5 L677.0 978.6 L686.6 977.7 L696.3 976.8 L706.0 982.2 L715.7 981.1 L725.4 980.0 L735.1 982.5 L744.8 987.9 L754.4 987.0 L764.1 987.8 L773.8 990.3 L783.5 989.7 L793.2 989.9 L802.9 990.0 L812.5 990.3 L822.2 990.7 L831.9 990.7 L841.6 991.0 L851.3 991.3 L861.0 991.6 L899.7 992.3 L1635.7 992.3" fill="none" stroke="#808080" stroke-width="1.6" stroke-linejoin="round"/>
<path d="M192.8 1096.3 L202.4 1103.1 L212.1 1108.9 L221.8 1113.6 L231.5 1117.6 L241.2 1120.9 L250.9 1123.6 L260.5 1125.9 L270.2 1127.8 L279.9 1073.3 L289.6 1040.7 L299.3 1021.2 L309.0 1014.4 L318.6 1005.7 L328.3 1002.6 L338.0 998.9 L347.7 997.4 L357.4 996.2 L367.1 995.1 L376.8 994.2 L386.4 987.7 L396.1 983.1 L405.8 978.4 L415.5 973.8 L425.2 970.2 L434.9 979.4 L444.5 978.5 L454.2 977.6 L463.9 976.8 L473.6 975.9 L483.3 975.1 L493.0 974.2 L502.6 973.3 L512.3 983.6 L522.0 982.1 L531.7 980.6 L541.4 979.1 L551.1 977.7 L560.8 976.2 L570.4 984.9 L580.1 983.5 L589.8 982.2 L599.5 980.9 L609.2 989.2 L618.9 988.2 L628.5 987.2 L638.2 986.3 L647.9 985.3 L657.6 984.3 L667.3 983.4 L677.0 985.6 L686.6 984.8 L696.3 984.0 L706.0 983.1 L715.7 982.3 L725.4 981.5 L735.1 982.0 L744.8 989.2 L754.4 987.8 L764.1 988.0 L773.8 988.8 L783.5 989.6 L793.2 989.8 L802.9 990.0 L812.5 990.3 L822.2 990.5 L831.9 990.7 L841.6 991.0 L851.3 991.3 L861.0 991.6 L899.7 992.3 L1635.7 992.3" fill="none" stroke="#808080" stroke-width="1.6" stroke-linejoin="round"/>
<path d="M192.8 1096.3 L202.4 1102.3 L212.1 1106.2 L221.8 1109.4 L231.5 1111.8 L241.2 1061.5 L250.9 1032.4 L260.5 1015.5 L270.2 1006.6 L279.9 1001.9 L289.6 998.9 L299.3 997.5 L309.0 996.0 L318.6 994.6 L328.3 993.8 L338.0 988.6 L347.7 985.0 L357.4 981.4 L367.1 977.7 L376.8 974.1 L386.4 974.1 L396.1 973.2 L405.8 982.6 L415.5 981.6 L425.2 980.6 L434.9 979.6 L444.5 978.6 L454.2 977.6 L463.9 988.4 L473.6 987.5 L483.3 986.5 L493.0 985.6 L502.6 984.7 L512.3 986.7 L522.0 985.9 L531.7 985.1 L541.4 984.3 L551.1 983.5 L560.8 982.7 L570.4 981.9 L580.1 981.1 L589.8 980.2 L599.5 979.4 L609.2 978.6 L618.9 984.3 L628.5 983.5 L638.2 982.7 L647.9 981.9 L657.6 981.2 L667.3 980.4 L677.0 979.6 L686.6 978.8 L696.3 978.0 L706.0 977.3 L715.7 976.5 L725.4 983.7 L735.1 982.7 L744.8 985.7 L754.4 986.8 L764.1 988.5 L773.8 988.7 L783.5 989.6 L793.2 989.9 L802.9 990.0 L812.5 990.3 L822.2 990.5 L831.9 990.7 L841.6 991.0 L851.3 991.3 L861.0 991.6 L899.7 992.3 L1635.7 992.3" fill="none" stroke="#808080" stroke-width="1.6" stroke-linejoin="round"/>
<path d="M192.8 1096.3 L202.4 1102.3 L212.1 1106.2 L221.8 1109.4 L231.5 1111.8 L241.2 1113.3 L250.9 1114.2 L260.5 1067.8 L270.2 1039.1 L279.9 1021.3 L289.6 1010.9 L299.3 1006.6 L309.0 1001.4 L318.6 999.6 L328.3 997.4 L338.0 995.6 L347.7 994.9 L357.4 994.0 L367.1 990.0 L376.8 987.6 L386.4 985.3 L396.1 983.0 L405.8 980.7 L415.5 978.3 L425.2 976.0 L434.9 973.7 L444.5 971.4 L454.2 969.1 L463.9 970.5 L473.6 978.8 L483.3 977.9 L493.0 977.0 L502.6 976.0 L512.3 976.0 L522.0 982.8 L531.7 981.7 L541.4 980.5 L551.1 979.4 L560.8 978.2 L570.4 977.1 L580.1 975.9 L589.8 974.8 L599.5 981.4 L609.2 980.6 L618.9 979.7 L628.5 978.9 L638.2 978.1 L647.9 977.3 L657.6 976.5 L667.3 975.7 L677.0 974.8 L686.6 974.0 L696.3 973.2 L706.0 972.4 L715.7 981.6 L725.4 980.7 L735.1 982.3 L744.8 985.4 L754.4 987.7 L764.1 988.0 L773.8 989.1 L783.5 989.6 L793.2 989.8 L802.9 990.0 L812.5 990.3 L822.2 990.5 L831.9 990.7 L841.6 990.9 L851.3 991.3 L861.0 991.6 L899.7 992.3 L1635.7 992.3" fill="none" stroke="#808080" stroke-width="1.6" stroke-linejoin="round"/>
<path d="M192.8 1096.3 L202.4 1102.0 L212.1 1105.3 L221.8 1107.8 L231.5 1109.6 L241.2 1110.5 L250.9 1110.6 L260.5 1110.3 L270.2 1061.3 L279.9 1032.6 L289.6 1015.9 L299.3 1009.7 L309.0 1003.6 L318.6 999.6 L328.3 997.2 L338.0 995.8 L347.7 994.8 L357.4 993.9 L367.1 988.4 L376.8 984.6 L386.4 980.7 L396.1 976.9 L405.8 973.0 L415.5 972.5 L425.2 983.0 L434.9 982.0 L444.5 981.0 L454.2 980.0 L463.9 986.0 L473.6 985.0 L483.3 984.0 L493.0 983.0 L502.6 982.0 L512.3 981.0 L522.0 983.2 L531.7 982.4 L541.4 981.7 L551.1 980.9 L560.8 980.1 L570.4 979.4 L580.1 978.6 L589.8 984.7 L599.5 983.6 L609.2 982.6 L618.9 981.5 L628.5 980.4 L638.2 979.3 L647.9 978.3 L657.6 981.7 L667.3 980.8 L677.0 979.9 L686.6 979.0 L696.3 978.1 L706.0 977.2 L715.7 985.4 L725.4 984.2 L735.1 983.1 L744.8 985.6 L754.4 986.7 L764.1 988.0 L773.8 989.1 L783.5 989.6 L793.2 990.0 L802.9 990.0 L812.5 990.3 L822.2 990.5 L831.9 990.7 L841.6 990.9 L851.3 991.3 L861.0 991.6 L899.7 992.3 L1635.7 992.3" fill="none" stroke="#808080" stroke-width="1.6" stroke-linejoin="round"/>
<path d="M192.8 1096.3 L202.4 1102.6 L212.1 1107.2 L221.8 1111.0 L231.5 1114.0 L241.2 1062.3 L250.9 1032.6 L260.5 1015.5 L270.2 1006.2 L279.9 1001.1 L289.6 998.8 L299.3 996.2 L309.0 994.8 L318.6 993.9 L328.3 990.5 L338.0 988.7 L347.7 986.9 L357.4 985.2 L367.1 983.4 L376.8 981.6 L386.4 983.1 L396.1 981.5 L405.8 979.8 L415.5 978.2 L425.2 976.6 L434.9 984.8 L444.5 984.0 L454.2 983.2 L463.9 982.5 L473.6 981.7 L483.3 981.0 L493.0 987.3 L502.6 986.2 L512.3 985.2 L522.0 984.1 L531.7 983.0 L541.4 981.9 L551.1 980.8 L560.8 979.7 L570.4 978.6 L580.1 982.1 L589.8 981.1 L599.5 980.1 L609.2 979.1 L618.9 978.0 L628.5 977.0 L638.2 976.0 L647.9 975.0 L657.6 974.0 L667.3 973.0 L677.0 972.0 L686.6 985.1 L696.3 984.2 L706.0 983.2 L715.7 982.3 L725.4 981.3 L735.1 985.5 L744.8 985.7 L754.4 986.7 L764.1 990.0 L773.8 988.7 L783.5 989.5 L793.2 989.8 L802.9 990.1 L812.5 990.2 L822.2 990.5 L831.9 990.7 L841.6 991.0 L851.3 991.3 L861.0 991.6 L899.7 992.3 L1635.7 992.3" fill="none" stroke="#808080" stroke-width="1.6" stroke-linejoin="round"/>
<path d="M192.8 1096.3 L202.4 1102.0 L212.1 1105.3 L221.8 1107.8 L231.5 1109.6 L241.2 1110.5 L250.9 1110.6 L260.5 1110.3 L270.2 1109.9 L279.9 1108.9 L289.6 1061.8 L299.3 1033.8 L309.0 1017.0 L318.6 1007.4 L328.3 1002.1 L338.0 998.2 L347.7 996.4 L357.4 995.0 L367.1 994.3 L376.8 988.5 L386.4 984.6 L396.1 980.8 L405.8 977.0 L415.5 973.2 L425.2 971.0 L434.9 986.7 L444.5 985.9 L454.2 985.2 L463.9 984.4 L473.6 983.7 L483.3 982.9 L493.0 982.2 L502.6 981.5 L512.3 984.2 L522.0 982.7 L531.7 981.2 L541.4 979.7 L551.1 978.2 L560.8 976.8 L570.4 975.3 L580.1 973.8 L589.8 972.3 L599.5 970.9 L609.2 969.4 L618.9 983.1 L628.5 981.9 L638.2 980.7 L647.9 979.6 L657.6 978.4 L667.3 977.2 L677.0 976.0 L686.6 974.8 L696.3 987.8 L706.0 986.5 L715.7 985.3 L725.4 984.0 L735.1 982.7 L744.8 985.7 L754.4 989.8 L764.1 988.9 L773.8 988.8 L783.5 990.7 L793.2 989.9 L802.9 990.1 L812.5 990.3 L822.2 990.5 L831.9 990.7 L841.6 990.9 L851.3 991.3 L861.0 991.6 L899.7 992.3 L1635.7 992.3" fill="none" stroke="#808080" stroke-width="1.6" stroke-linejoin="round"/>
<path d="M192.8 1096.3 L202.4 1102.0 L212.1 1105.3 L221.8 1107.8 L231.5 1109.6 L241.2 1110.5 L250.9 1060.3 L260.5 1031.4 L270.2 1014.8 L279.9 1008.8 L289.6 1002.3 L299.3 999.6 L309.0 998.0 L318.6 996.4 L328.3 995.1 L338.0 994.2 L347.7 989.2 L357.4 986.2 L367.1 983.1 L376.8 980.0 L386.4 977.0 L396.1 973.9 L405.8 987.6 L415.5 986.1 L425.2 984.5 L434.9 982.9 L444.5 986.6 L454.2 985.2 L463.9 983.8 L473.6 982.5 L483.3 981.1 L493.0 979.8 L502.6 988.0 L512.3 986.8 L522.0 985.6 L531.7 984.4 L541.4 983.2 L551.1 982.0 L560.8 980.8 L570.4 979.6 L580.1 978.4 L589.8 987.9 L599.5 987.1 L609.2 986.2 L618.9 985.4 L628.5 984.5 L638.2 983.7 L647.9 982.8 L657.6 982.0 L667.3 981.1 L677.0 980.3 L686.6 984.3 L696.3 983.3 L706.0 982.3 L715.7 981.2 L725.4 980.2 L735.1 982.1 L744.8 989.8 L754.4 988.9 L764.1 988.0 L773.8 988.7 L783.5 989.6 L793.2 990.0 L802.9 990.1 L812.5 990.3 L822.2 990.5 L831.9 990.8 L841.6 990.9 L851.3 991.3 L861.0 991.6 L899.7 992.3 L1635.7 992.3" fill="none" stroke="#808080" stroke-width="1.6" stroke-linejoin="round"/>
<path d="M192.8 1096.3 L202.4 1101.0 L212.1 1102.3 L221.8 1103.0 L231.5 1103.2 L241.2 1102.0 L250.9 1099.9 L260.5 1097.5 L270.2 1095.1 L279.9 1056.5 L289.6 1032.4 L299.3 1017.4 L309.0 1010.6 L318.6 1003.5 L328.3 999.0 L338.0 996.6 L347.7 995.2 L357.4 994.5 L367.1 993.7 L376.8 987.5 L386.4 982.7 L396.1 977.9 L405.8 973.1 L415.5 972.5 L425.2 977.1 L434.9 976.1 L444.5 975.1 L454.2 974.1 L463.9 973.2 L473.6 972.2 L483.3 971.2 L493.0 970.2 L502.6 983.8 L512.3 982.8 L522.0 981.9 L531.7 980.9 L541.4 979.9 L551.1 979.0 L560.8 978.0 L570.4 977.1 L580.1 976.1 L589.8 988.4 L599.5 987.1 L609.2 985.7 L618.9 984.4 L628.5 983.1 L638.2 981.7 L647.9 980.4 L657.6 983.4 L667.3 982.1 L677.0 980.8 L686.6 979.5 L696.3 978.2 L706.0 976.8 L715.7 975.5 L725.4 980.7 L735.1 982.1 L744.8 985.7 L754.4 986.8 L764.1 989.6 L773.8 988.7 L783.5 989.7 L793.2 989.8 L802.9 990.0 L812.5 990.3 L822.2 990.5 L831.9 990.7 L841.6 990.9 L851.3 991.3 L861.0 991.6 L899.7 992.3 L1635.7 992.3" fill="none" stroke="#808080" stroke-width="1.6" stroke-linejoin="round"/>
<path d="M192.8 1096.3 L202.4 1102.6 L212.1 1107.2 L221.8 1111.0 L231.5 1114.0 L241.2 1116.2 L250.9 1068.8 L260.5 1039.6 L270.2 1021.5 L279.9 1015.7 L289.6 1010.5 L299.3 1003.5 L309.0 1000.0 L318.6 996.9 L328.3 996.0 L338.0 994.7 L347.7 993.8 L357.4 989.3 L367.1 986.4 L376.8 983.4 L386.4 980.4 L396.1 977.5 L405.8 974.5 L415.5 983.5 L425.2 982.2 L434.9 981.0 L444.5 979.8 L454.2 983.9 L463.9 982.8 L473.6 981.7 L483.3 980.6 L493.0 988.3 L502.6 987.3 L512.3 986.4 L522.0 985.4 L531.7 984.4 L541.4 986.4 L551.1 985.3 L560.8 984.3 L570.4 983.3 L580.1 982.2 L589.8 981.2 L599.5 980.2 L609.2 979.2 L618.9 978.1 L628.5 977.1 L638.2 976.1 L647.9 975.1 L657.6 980.2 L667.3 979.0 L677.0 977.7 L686.6 976.4 L696.3 975.2 L706.0 973.9 L715.7 972.6 L725.4 986.9 L735.1 985.4 L744.8 985.4 L754.4 988.5 L764.1 988.0 L773.8 989.0 L783.5 989.6 L793.2 989.9 L802.9 990.0 L812.5 990.3 L822.2 990.5 L831.9 991.3 L841.6 990.9 L851.3 991.3 L861.0 991.6 L899.7 992.3 L1635.7 992.3" fill="none" stroke="#808080" stroke-width="1.6" stroke-linejoin="round"/>
<path d="M192.8 1096.3 L202.4 1102.3 L212.1 1106.2 L221.8 1109.4 L231.5 1111.8 L241.2 1113.3 L250.9 1066.7 L260.5 1038.0 L270.2 1020.4 L279.9 1010.0 L289.6 1005.1 L299.3 1002.1 L309.0 999.0 L318.6 997.1 L328.3 995.4 L338.0 994.3 L347.7 993.7 L357.4 988.4 L367.1 984.5 L376.8 980.7 L386.4 976.8 L396.1 972.9 L405.8 978.9 L415.5 977.5 L425.2 976.0 L434.9 974.6 L444.5 973.1 L454.2 979.9 L463.9 979.0 L473.6 978.1 L483.3 977.2 L493.0 976.2 L502.6 975.3 L512.3 986.1 L522.0 984.6 L531.7 983.1 L541.4 981.7 L551.1 980.2 L560.8 978.7 L570.4 977.2 L580.1 975.8 L589.8 982.3 L599.5 980.7 L609.2 979.2 L618.9 977.6 L628.5 976.1 L638.2 974.5 L647.9 972.9 L657.6 976.7 L667.3 975.3 L677.0 973.9 L686.6 972.5 L696.3 971.2 L706.0 969.8 L715.7 972.3 L725.4 986.5 L735.1 985.0 L744.8 985.5 L754.4 989.2 L764.1 988.4 L773.8 988.9 L783.5 989.6 L793.2 990.8 L802.9 990.1 L812.5 990.2 L822.2 990.8 L831.9 990.7 L841.6 991.0 L851.3 991.3 L861.0 991.6 L899.7 992.3 L1635.7 992.3" fill="none" stroke="#808080" stroke-width="1.6" stroke-linejoin="round"/>
<path d="M192.8 1096.3 L202.4 1103.1 L212.1 1108.9 L221.8 1113.6 L231.5 1117.6 L241.2 1120.9 L250.9 1123.6 L260.5 1125.9 L270.2 1076.0 L279.9 1044.7 L289.6 1025.1 L299.3 1018.3 L309.0 1010.0 L318.6 1004.2 L328.3 1000.4 L338.0 997.7 L347.7 996.3 L357.4 995.0 L367.1 994.0 L376.8 990.5 L386.4 988.8 L396.1 987.1 L405.8 985.3 L415.5 983.6 L425.2 981.9 L434.9 980.1 L444.5 978.4 L454.2 976.7 L463.9 974.9 L473.6 973.2 L483.3 971.5 L493.0 981.4 L502.6 980.1 L512.3 978.7 L522.0 977.3 L531.7 976.0 L541.4 974.6 L551.1 973.2 L560.8 971.8 L570.4 970.5 L580.1 975.3 L589.8 974.0 L599.5 972.7 L609.2 971.4 L618.9 972.6 L628.5 970.3 L638.2 979.4 L647.9 978.0 L657.6 976.7 L667.3 975.4 L677.0 974.0 L686.6 972.7 L696.3 978.8 L706.0 977.5 L715.7 976.3 L725.4 978.8 L735.1 986.3 L744.8 985.7 L754.4 987.9 L764.1 988.0 L773.8 988.8 L783.5 989.6 L793.2 989.8 L802.9 990.3 L812.5 990.3 L822.2 990.5 L831.9 990.8 L841.6 990.9 L851.3 991.3 L861.0 991.6 L899.7 992.3 L1635.7 992.3" fill="none" stroke="#808080" stroke-width="1.6" stroke-linejoin="round"/>
<path d="M192.8 1096.3 L202.4 1102.9 L212.1 1108.1 L221.8 1112.3 L231.5 1115.8 L241.2 1118.6 L250.9 1120.8 L260.5 1066.1 L270.2 1034.7 L279.9 1016.7 L289.6 1008.2 L299.3 1004.2 L309.0 1001.1 L318.6 999.2 L328.3 997.7 L338.0 996.2 L347.7 995.3 L357.4 994.2 L367.1 989.1 L376.8 985.9 L386.4 982.7 L396.1 979.5 L405.8 976.3 L415.5 973.1 L425.2 971.2 L434.9 982.5 L444.5 981.2 L454.2 979.9 L463.9 978.6 L473.6 977.3 L483.3 976.0 L493.0 974.7 L502.6 973.5 L512.3 976.1 L522.0 979.7 L531.7 979.0 L541.4 978.2 L551.1 977.5 L560.8 976.8 L570.4 976.1 L580.1 987.6 L589.8 986.8 L599.5 986.1 L609.2 985.4 L618.9 987.0 L628.5 985.7 L638.2 984.5 L647.9 983.2 L657.6 981.9 L667.3 980.6 L677.0 979.3 L686.6 978.0 L696.3 976.7 L706.0 984.8 L715.7 984.0 L725.4 983.3 L735.1 982.5 L744.8 985.7 L754.4 988.6 L764.1 988.0 L773.8 989.6 L783.5 989.7 L793.2 989.8 L802.9 990.0 L812.5 990.2 L822.2 990.5 L831.9 990.7 L841.6 990.9 L851.3 991.3 L861.0 991.6 L899.7 992.3 L1635.7 992.3" fill="none" stroke="#808080" stroke-width="1.6" stroke-linejoin="round"/>
<path d="M192.8 1096.3 L202.4 1101.5 L212.1 1104.0 L221.8 1105.7 L231.5 1106.8 L241.2 1106.7 L250.9 1105.9 L260.5 1104.6 L270.2 1059.3 L279.9 1032.3 L289.6 1016.2 L299.3 1008.9 L309.0 1004.2 L318.6 1001.8 L328.3 998.3 L338.0 996.9 L347.7 995.3 L357.4 994.7 L367.1 993.8 L376.8 987.2 L386.4 982.1 L396.1 977.0 L405.8 972.9 L415.5 972.5 L425.2 971.0 L434.9 969.1 L444.5 980.5 L454.2 979.0 L463.9 977.5 L473.6 976.0 L483.3 974.6 L493.0 986.6 L502.6 985.2 L512.3 983.8 L522.0 982.4 L531.7 984.2 L541.4 982.9 L551.1 981.7 L560.8 980.4 L570.4 979.2 L580.1 977.9 L589.8 976.7 L599.5 975.4 L609.2 974.2 L618.9 972.9 L628.5 980.5 L638.2 979.8 L647.9 979.1 L657.6 978.4 L667.3 977.7 L677.0 977.0 L686.6 976.4 L696.3 975.7 L706.0 975.0 L715.7 974.3 L725.4 988.4 L735.1 987.5 L744.8 986.5 L754.4 986.9 L764.1 988.0 L773.8 988.8 L783.5 990.6 L793.2 989.8 L802.9 990.5 L812.5 990.2 L822.2 990.5 L831.9 990.7 L841.6 991.0 L851.3 991.3 L861.0 991.6 L899.7 992.3 L1635.7 992.3" fill="none" stroke="#808080" stroke-width="1.6" stroke-linejoin="round"/>
</g>
<path d="M192.8 835.5 L202.4 843.5 L212.1 863.7 L221.8 860.3 L231.5 865.0 L241.2 869.5 L250.9 881.9 L260.5 901.1 L270.2 936.3 L279.9 958.7 L289.6 974.5 L299.3 983.4 L309.0 988.2 L318.6 990.6 L328.3 991.6 L338.0 992.3 L473.6 992.3 L609.2 990.9 L638.2 992.3 L1635.7 992.3" fill="none" stroke="#0000ff" stroke-width="6.6" stroke-linejoin="round"/>
<rect x="1240.5" y="81" width="362.9000000000001" height="131.9" fill="#fff" stroke="#262626" stroke-width="1.5"/>
<path d="M1260.7 116.3H1361" stroke="#808080" stroke-width="1.4"/>
<path d="M1260.7 176.6H1361" stroke="#0000ff" stroke-width="6.6"/>
<rect x="1260.5" y="751" width="342.9000000000001" height="131.89999999999998" fill="#fff" stroke="#262626" stroke-width="1.5"/>
<path d="M1280.5 786.3H1380.7" stroke="#808080" stroke-width="1.4"/>
<path d="M1280.5 846.6H1380.7" stroke="#0000ff" stroke-width="6.6"/>
<g id="legend1-text">
<text transform="translate(1372.75,128.80) scale(1.121,1)" font-size="47.71" font-style="italic" fill="#000">x</text>
<text transform="translate(1398.80,135.37) scale(0.984,1)" font-size="33.93" fill="#000">3</text>
<text transform="translate(1420.53,128.78) scale(0.849,1)" font-size="52.72" fill="#000">(</text>
<text transform="translate(1437.49,128.80) scale(1.002,1)" font-size="49.00" font-style="italic" fill="#000">k</text>
<text transform="translate(1464.28,128.78) scale(0.835,1)" font-size="52.72" fill="#000">)</text>
<text transform="translate(1373.86,188.80) scale(1.150,1)" font-size="49.02" font-style="italic" fill="#000">E</text>
<text transform="translate(1411.48,189.35) scale(0.771,1)" font-size="52.11" fill="#000">|</text>
<text transform="translate(1425.28,189.35) scale(0.771,1)" font-size="52.11" fill="#000">|</text>
<text transform="translate(1438.02,188.80) scale(1.084,1)" font-size="47.06" font-style="italic" fill="#000">x</text>
<text transform="translate(1462.91,196.08) scale(0.999,1)" font-size="33.19" fill="#000">3</text>
<text transform="translate(1485.52,189.47) scale(0.864,1)" font-size="52.28" fill="#000">(</text>
<text transform="translate(1502.90,188.80) scale(1.029,1)" font-size="47.27" font-style="italic" fill="#000">k</text>
<text transform="translate(1529.29,189.47) scale(0.834,1)" font-size="52.28" fill="#000">)</text>
<text transform="translate(1548.58,189.35) scale(0.771,1)" font-size="52.11" fill="#000">|</text>
<text transform="translate(1562.58,189.35) scale(0.771,1)" font-size="52.11" fill="#000">|</text>
<text transform="translate(1572.37,168.60) scale(1.145,1)" font-size="30.51" fill="#000">2</text>
</g>
<g id="legend2-text">
<text transform="translate(1389.50,797.95) scale(1.293,1)" font-size="46.53" font-style="italic" fill="#000">u</text>
<text transform="translate(1420.58,798.73) scale(0.824,1)" font-size="52.94" fill="#000">(</text>
<text transform="translate(1437.73,798.50) scale(1.072,1)" font-size="47.56" font-style="italic" fill="#000">k</text>
<text transform="translate(1464.29,798.73) scale(0.824,1)" font-size="52.94" fill="#000">)</text>
<text transform="translate(1393.86,858.80) scale(1.154,1)" font-size="48.87" font-style="italic" fill="#000">E</text>
<text transform="translate(1431.48,859.45) scale(0.771,1)" font-size="52.11" fill="#000">|</text>
<text transform="translate(1444.28,859.45) scale(0.771,1)" font-size="52.11" fill="#000">|</text>
<text transform="translate(1454.48,858.75) scale(1.250,1)" font-size="46.95" font-style="italic" fill="#000">u</text>
<text transform="translate(1485.26,859.57) scale(0.886,1)" font-size="52.28" fill="#000">(</text>
<text transform="translate(1503.04,858.80) scale(1.077,1)" font-size="47.13" font-style="italic" fill="#000">k</text>
<text transform="translate(1529.79,859.57) scale(0.834,1)" font-size="52.28" fill="#000">)</text>
<text transform="translate(1549.48,859.45) scale(0.771,1)" font-size="52.11" fill="#000">|</text>
<text transform="translate(1562.78,859.45) scale(0.771,1)" font-size="52.11" fill="#000">|</text>
<text transform="translate(1573.57,838.60) scale(1.145,1)" font-size="30.51" fill="#000">2</text>
</g>
<g id="ylabels">
<text transform="translate(91.10,315.82) rotate(-90) scale(1.071,1)" font-size="59.91" font-style="italic" fill="#262626">x</text>
<text transform="translate(98.59,284.58) rotate(-90) scale(0.993,1)" font-size="41.67" fill="#262626">3</text>
<text transform="translate(89.95,1015.60) rotate(-90) scale(1.263,1)" font-size="55.66" font-style="italic" fill="#262626">u</text>
<text transform="translate(90.62,976.36) rotate(-90) scale(0.818,1)" font-size="62.86" fill="#262626">(</text>
<text transform="translate(90.60,956.22) rotate(-90) scale(1.023,1)" font-size="58.23" font-style="italic" fill="#262626">k</text>
<text transform="translate(90.62,922.98) rotate(-90) scale(0.830,1)" font-size="62.86" fill="#262626">)</text>
</g>
<text x="728" y="1331.7" font-size="61" letter-spacing="1.3" fill="#262626">time instances</text>
</svg>
</body></html>
